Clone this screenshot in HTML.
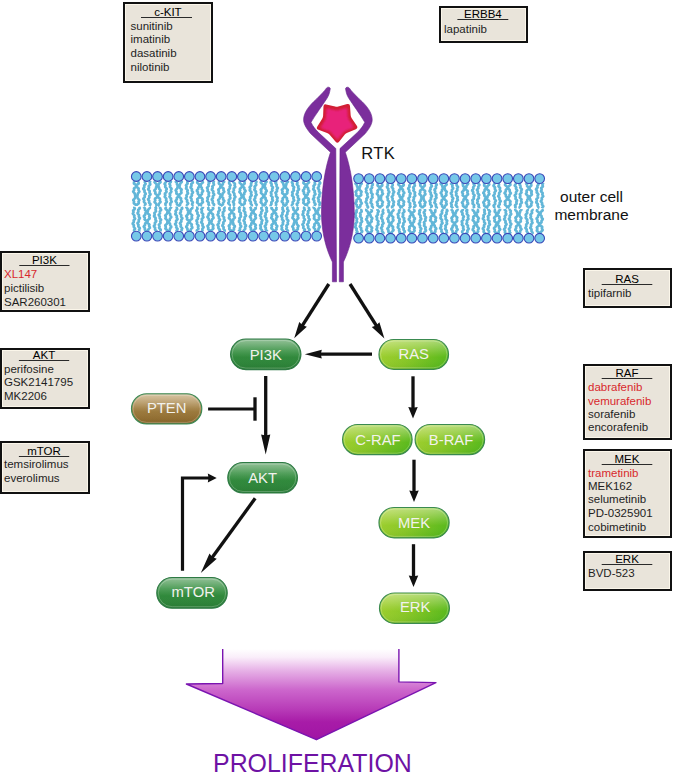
<!DOCTYPE html>
<html><head><meta charset="utf-8"><style>
html,body{margin:0;padding:0;background:#fff;width:673px;height:778px;overflow:hidden}
svg{display:block}
text{font-family:"Liberation Sans",sans-serif}
.bt{font-size:11.5px}
</style></head><body>
<svg width="673" height="778" viewBox="0 0 673 778">
<defs><filter id="sb" x="-20%" y="-20%" width="140%" height="140%"><feGaussianBlur stdDeviation="1.3"/></filter><linearGradient id="gd" x1="0" y1="0" x2="0" y2="1"><stop offset="0" stop-color="#4f9a56"/><stop offset="0.35" stop-color="#358f40"/><stop offset="1" stop-color="#2a8036"/></linearGradient>
<linearGradient id="gl" x1="0" y1="0.3" x2="1" y2="0.7"><stop offset="0" stop-color="#a2d030"/><stop offset="0.5" stop-color="#86c626"/><stop offset="1" stop-color="#56b81c"/></linearGradient><linearGradient id="hl" x1="0" y1="0" x2="0" y2="1"><stop offset="0" stop-color="#ffffff" stop-opacity="0.38"/><stop offset="0.45" stop-color="#ffffff" stop-opacity="0.08"/><stop offset="0.6" stop-color="#ffffff" stop-opacity="0"/><stop offset="1" stop-color="#000000" stop-opacity="0.04"/></linearGradient>
<linearGradient id="gb" x1="0" y1="0" x2="0" y2="1"><stop offset="0" stop-color="#bfa06a"/><stop offset="0.5" stop-color="#a07e42"/><stop offset="1" stop-color="#8a6628"/></linearGradient><linearGradient id="pg" x1="0" y1="649" x2="0" y2="740" gradientUnits="userSpaceOnUse"><stop offset="0" stop-color="#ffffff"/><stop offset="0.09" stop-color="#faeefa"/><stop offset="0.24" stop-color="#e6b0e6"/><stop offset="0.45" stop-color="#cc66cc"/><stop offset="0.66" stop-color="#b83cb8"/><stop offset="0.8" stop-color="#a81ca8"/><stop offset="1" stop-color="#a014a4"/></linearGradient></defs>
<rect x="124" y="3" width="88" height="79" fill="#e9e4da" stroke="#111" stroke-width="2"/>
<rect x="125.5" y="4.5" width="85" height="76" fill="none" stroke="#fbf6ea" stroke-width="1"/>
<line x1="141" y1="17.5" x2="192" y2="17.5" stroke="#2a2a2a" stroke-width="1"/>
<text x="167.9" y="15.9" text-anchor="middle" class="bt">c-KIT</text>
<text x="130.5" y="30" class="bt" fill="#1e1e1e">sunitinib</text>
<text x="130.5" y="43.4" class="bt" fill="#1e1e1e">imatinib</text>
<text x="130.5" y="57" class="bt" fill="#1e1e1e">dasatinib</text>
<text x="130.5" y="70.8" class="bt" fill="#1e1e1e">nilotinib</text>
<rect x="440" y="7" width="87" height="35" fill="#e9e4da" stroke="#111" stroke-width="2"/>
<rect x="441.5" y="8.5" width="84" height="32" fill="none" stroke="#fbf6ea" stroke-width="1"/>
<line x1="457.4" y1="19.5" x2="508.3" y2="19.5" stroke="#2a2a2a" stroke-width="1"/>
<text x="482.85" y="18.2" text-anchor="middle" class="bt">ERBB4</text>
<text x="444" y="33" class="bt" fill="#1e1e1e">lapatinib</text>
<rect x="1" y="252" width="88" height="59" fill="#e9e4da" stroke="#111" stroke-width="2"/>
<rect x="2.5" y="253.5" width="85" height="56" fill="none" stroke="#fbf6ea" stroke-width="1"/>
<line x1="19.3" y1="265.5" x2="69.5" y2="265.5" stroke="#2a2a2a" stroke-width="1"/>
<text x="44.4" y="264.4" text-anchor="middle" class="bt">PI3K</text>
<text x="4" y="278.4" class="bt" fill="#d8282c">XL147</text>
<text x="4" y="292.3" class="bt" fill="#1e1e1e">pictilisib</text>
<text x="4" y="305.7" class="bt" fill="#1e1e1e">SAR260301</text>
<rect x="1" y="349" width="88" height="59" fill="#e9e4da" stroke="#111" stroke-width="2"/>
<rect x="2.5" y="350.5" width="85" height="56" fill="none" stroke="#fbf6ea" stroke-width="1"/>
<line x1="18.9" y1="360.5" x2="69.2" y2="360.5" stroke="#2a2a2a" stroke-width="1"/>
<text x="44.05" y="359.0" text-anchor="middle" class="bt">AKT</text>
<text x="4" y="372.9" class="bt" fill="#1e1e1e">perifosine</text>
<text x="4" y="386.2" class="bt" fill="#1e1e1e">GSK2141795</text>
<text x="4" y="399.6" class="bt" fill="#1e1e1e">MK2206</text>
<rect x="1" y="442" width="88" height="51" fill="#e9e4da" stroke="#111" stroke-width="2"/>
<rect x="2.5" y="443.5" width="85" height="48" fill="none" stroke="#fbf6ea" stroke-width="1"/>
<line x1="18.9" y1="456.5" x2="69.2" y2="456.5" stroke="#2a2a2a" stroke-width="1"/>
<text x="44.05" y="454.9" text-anchor="middle" class="bt">mTOR</text>
<text x="4" y="468.4" class="bt" fill="#1e1e1e">temsirolimus</text>
<text x="4" y="481.8" class="bt" fill="#1e1e1e">everolimus</text>
<rect x="584" y="269" width="87" height="38" fill="#e9e4da" stroke="#111" stroke-width="2"/>
<rect x="585.5" y="270.5" width="84" height="35" fill="none" stroke="#fbf6ea" stroke-width="1"/>
<line x1="601.7" y1="284.5" x2="652.3" y2="284.5" stroke="#2a2a2a" stroke-width="1"/>
<text x="627.0" y="283.29999999999995" text-anchor="middle" class="bt">RAS</text>
<text x="588" y="297.1" class="bt" fill="#1e1e1e">tipifarnib</text>
<rect x="584" y="365" width="87" height="74" fill="#e9e4da" stroke="#111" stroke-width="2"/>
<rect x="585.5" y="366.5" width="84" height="71" fill="none" stroke="#fbf6ea" stroke-width="1"/>
<line x1="601.7" y1="378.5" x2="652.3" y2="378.5" stroke="#2a2a2a" stroke-width="1"/>
<text x="627.0" y="377.29999999999995" text-anchor="middle" class="bt">RAF</text>
<text x="588" y="390.6" class="bt" fill="#d8282c">dabrafenib</text>
<text x="588" y="404.5" class="bt" fill="#d8282c">vemurafenib</text>
<text x="588" y="417.9" class="bt" fill="#1e1e1e">sorafenib</text>
<text x="588" y="431.3" class="bt" fill="#1e1e1e">encorafenib</text>
<rect x="584" y="450" width="87" height="87" fill="#e9e4da" stroke="#111" stroke-width="2"/>
<rect x="585.5" y="451.5" width="84" height="84" fill="none" stroke="#fbf6ea" stroke-width="1"/>
<line x1="601.7" y1="464.5" x2="652.3" y2="464.5" stroke="#2a2a2a" stroke-width="1"/>
<text x="627.0" y="463.2" text-anchor="middle" class="bt">MEK</text>
<text x="588" y="476.6" class="bt" fill="#d8282c">trametinib</text>
<text x="588" y="490" class="bt" fill="#1e1e1e">MEK162</text>
<text x="588" y="503.3" class="bt" fill="#1e1e1e">selumetinib</text>
<text x="588" y="517.1" class="bt" fill="#1e1e1e">PD-0325901</text>
<text x="588" y="530.5" class="bt" fill="#1e1e1e">cobimetinib</text>
<rect x="584" y="552" width="87" height="38" fill="#e9e4da" stroke="#111" stroke-width="2"/>
<rect x="585.5" y="553.5" width="84" height="35" fill="none" stroke="#fbf6ea" stroke-width="1"/>
<line x1="601.7" y1="564.5" x2="652.3" y2="564.5" stroke="#2a2a2a" stroke-width="1"/>
<text x="627.0" y="563.3" text-anchor="middle" class="bt">ERK</text>
<text x="588" y="576.7" class="bt" fill="#1e1e1e">BVD-523</text>
<polyline points="133.60,181.00 134.07,181.62 134.12,182.25 133.87,182.88 133.94,183.50 134.65,184.12 135.61,184.75 136.17,185.38 136.26,186.00 136.40,186.62 137.05,187.25 138.02,187.88 138.65,188.50 138.65,189.12 138.43,189.75 138.57,190.38 139.08,191.00 139.39,191.62 139.04,192.25 138.29,192.88 137.77,193.50 137.73,194.12 137.72,194.75 137.18,195.38 136.18,196.00 135.33,196.62 135.06,197.25 135.09,197.88 134.82,198.50 134.08,199.12 133.40,199.75 133.32,200.38 133.77,201.00 134.10,201.62 133.97,202.25 133.73,202.88 133.98,203.50 134.82,204.12 135.69,204.75 136.07,205.38 136.10,206.00" fill="none" stroke="#62b6d8" stroke-width="2.6"/>
<polyline points="139.00,181.00 138.53,181.62 138.48,182.25 138.73,182.88 138.66,183.50 137.95,184.12 136.99,184.75 136.43,185.38 136.34,186.00 136.20,186.62 135.55,187.25 134.58,187.88 133.95,188.50 133.95,189.12 134.17,189.75 134.03,190.38 133.52,191.00 133.21,191.62 133.56,192.25 134.31,192.88 134.83,193.50 134.87,194.12 134.88,194.75 135.42,195.38 136.42,196.00 137.27,196.62 137.54,197.25 137.51,197.88 137.78,198.50 138.52,199.12 139.20,199.75 139.28,200.38 138.84,201.00 138.50,201.62 138.62,202.25 138.87,202.88 138.62,203.50 137.78,204.12 136.91,204.75 136.53,205.38 136.50,206.00" fill="none" stroke="#62b6d8" stroke-width="2.6"/>
<polyline points="145.16,181.00 144.89,181.62 144.80,182.25 145.18,182.88 145.62,183.50 145.53,184.12 144.87,184.75 144.22,185.38 144.11,186.00 144.35,186.62 144.33,187.25 143.84,187.88 143.34,188.50 143.40,189.12 144.02,189.75 144.59,190.38 144.65,191.00 144.43,191.62 144.53,192.25 145.11,192.88 145.68,193.50 145.65,194.12 145.09,194.75 144.61,195.38 144.63,196.00 144.85,196.62 144.68,197.25 144.02,197.88 143.41,198.50 143.41,199.12 143.90,199.75 144.27,200.38 144.16,201.00 143.91,201.62 144.13,202.25 144.85,202.88 145.48,203.50 145.51,204.12 145.09,204.75 144.84,205.38 145.06,206.00" fill="none" stroke="#62b6d8" stroke-width="2.6"/>
<polyline points="150.10,181.00 150.15,181.62 149.80,182.25 149.67,182.88 149.99,183.50 150.32,184.12 150.09,184.75 149.35,185.38 148.73,186.00 148.69,186.62 148.97,187.25 148.98,187.88 148.55,188.50 148.17,189.12 148.38,189.75 149.10,190.38 149.67,191.00 149.68,191.62 149.45,192.25 149.55,192.88 150.09,193.50 150.53,194.12 150.34,194.75 149.67,195.38 149.17,196.00 149.20,196.62 149.41,197.25 149.21,197.88 148.58,198.50 148.09,199.12 148.25,199.75 148.85,200.38 149.25,201.00 149.15,201.62 148.96,202.25 149.23,202.88 149.94,203.50 150.46,204.12 150.34,204.75 149.82,205.38 149.54,206.00" fill="none" stroke="#62b6d8" stroke-width="2.6"/>
<polyline points="155.17,181.00 154.75,181.62 154.58,182.25 155.07,182.88 155.90,183.50 156.45,184.12 156.51,184.75 156.58,185.38 157.19,186.00 158.21,186.62 159.00,187.25 159.19,187.88 159.10,188.50 159.36,189.12 160.03,189.75 160.59,190.38 160.52,191.00 159.96,191.62 159.57,192.25 159.64,192.88 159.78,193.50 159.41,194.12 158.49,194.75 157.61,195.38 157.26,196.00 157.24,196.62 156.93,197.25 156.11,197.88 155.23,198.50 154.91,199.12 155.13,199.75 155.32,200.38 155.05,201.00 154.59,201.62 154.59,202.25 155.23,202.88 156.01,203.50 156.36,204.12 156.34,204.75 156.54,205.38 157.33,206.00" fill="none" stroke="#62b6d8" stroke-width="2.6"/>
<polyline points="159.92,181.00 160.37,181.62 160.46,182.25 159.89,182.88 159.08,183.50 158.63,184.12 158.62,184.75 158.48,185.38 157.78,186.00 156.75,186.62 156.04,187.25 155.93,187.88 155.99,188.50 155.64,189.12 154.92,189.75 154.43,190.38 154.59,191.00 155.15,191.62 155.46,192.25 155.32,192.88 155.21,193.50 155.68,194.12 156.63,194.75 157.44,195.38 157.71,196.00 157.74,196.62 158.14,197.25 159.02,197.88 159.85,198.50 160.08,199.12 159.83,199.75 159.72,200.38 160.07,201.00 160.51,201.62 160.41,202.25 159.72,202.88 159.00,203.50 158.74,204.12 158.78,204.75 158.49,205.38 157.63,206.00" fill="none" stroke="#62b6d8" stroke-width="2.6"/>
<polyline points="165.83,181.00 166.06,181.62 165.93,182.25 165.28,182.88 164.65,183.50 164.61,184.12 165.09,184.75 165.48,185.38 165.39,186.00 165.14,186.62 165.32,187.25 166.02,187.88 166.68,188.50 166.74,189.12 166.33,189.75 166.06,190.38 166.26,191.00 166.55,191.62 166.35,192.25 165.62,192.88 164.96,193.50 164.88,194.12 165.23,194.75 165.38,195.38 165.07,196.00 164.73,196.62 164.93,197.25 165.66,197.88 166.29,198.50 166.36,199.12 166.08,199.75 166.05,200.38 166.47,201.00 166.87,201.62 166.68,202.25 165.98,202.88 165.39,203.50 165.35,204.12 165.59,204.75 165.51,205.38 164.98,206.00" fill="none" stroke="#62b6d8" stroke-width="2.6"/>
<polyline points="170.69,181.00 170.90,181.62 170.71,182.25 170.02,182.88 169.43,183.50 169.45,184.12 169.94,184.75 170.28,185.38 170.14,186.00 169.90,186.62 170.15,187.25 170.88,187.88 171.50,188.50 171.50,189.12 171.08,189.75 170.87,190.38 171.11,191.00 171.38,191.62 171.11,192.25 170.36,192.88 169.75,193.50 169.73,194.12 170.08,194.75 170.16,195.38 169.81,196.00 169.49,196.62 169.76,197.25 170.51,197.88 171.10,198.50 171.11,199.12 170.83,199.75 170.86,200.38 171.33,201.00 171.69,201.62 171.44,202.25 170.72,202.88 170.19,203.50 170.20,204.12 170.43,204.75 170.29,205.38 169.72,206.00" fill="none" stroke="#62b6d8" stroke-width="2.6"/>
<polyline points="175.64,181.00 175.75,181.62 176.39,182.25 176.94,182.88 177.02,183.50 176.93,184.12 177.29,184.75 178.22,185.38 179.16,186.00 179.58,186.62 179.58,187.25 179.79,187.88 180.50,188.50 181.33,189.12 181.63,189.75 181.34,190.38 181.01,191.00 181.11,191.62 181.46,192.25 181.43,192.88 180.75,193.50 179.87,194.12 179.40,194.75 179.35,195.38 179.18,196.00 178.45,196.62 177.44,197.25 176.80,197.88 176.77,198.50 176.89,199.12 176.60,199.75 175.96,200.38 175.59,201.00 175.89,201.62 176.54,202.25 176.92,202.88 176.85,203.50 176.83,204.12 177.38,204.75 178.38,205.38 179.19,206.00" fill="none" stroke="#62b6d8" stroke-width="2.6"/>
<polyline points="181.36,181.00 181.77,181.62 181.60,182.25 180.87,182.88 180.20,183.50 180.02,184.12 180.06,184.75 179.70,185.38 178.78,186.00 177.81,186.62 177.37,187.25 177.39,187.88 177.28,188.50 176.68,189.12 175.93,189.75 175.68,190.38 176.05,191.00 176.51,191.62 176.55,192.25 176.30,192.88 176.38,193.50 177.10,194.12 178.05,194.75 178.61,195.38 178.69,196.00 178.83,196.62 179.50,197.25 180.47,197.88 181.09,198.50 181.08,199.12 180.86,199.75 181.01,200.38 181.53,201.00 181.83,201.62 181.47,202.25 180.72,202.88 180.21,203.50 180.18,204.12 180.17,204.75 179.62,205.38 178.61,206.00" fill="none" stroke="#62b6d8" stroke-width="2.6"/>
<polyline points="187.81,181.00 187.35,181.62 187.28,182.25 187.57,182.88 187.64,183.50 187.12,184.12 186.35,184.75 185.97,185.38 186.21,186.00 186.56,186.62 186.51,187.25 186.13,187.88 186.05,188.50 186.59,189.12 187.37,189.75 187.73,190.38 187.52,191.00 187.27,191.62 187.45,192.25 187.91,192.88 188.02,193.50 187.48,194.12 186.73,194.75 186.41,195.38 186.59,196.00 186.76,196.62 186.45,197.25 185.91,197.88 185.77,198.50 186.28,199.12 186.97,199.75 187.24,200.38 187.05,201.00 186.97,201.62 187.38,202.25 188.00,202.88 188.18,203.50 187.71,204.12 187.09,204.75 186.91,205.38 187.11,206.00" fill="none" stroke="#62b6d8" stroke-width="2.6"/>
<polyline points="192.11,181.00 192.49,181.62 192.83,182.25 192.59,182.88 191.85,183.50 191.26,184.12 191.25,184.75 191.51,185.38 191.45,186.00 190.95,186.62 190.56,187.25 190.79,187.88 191.49,188.50 192.01,189.12 191.99,189.75 191.77,190.38 191.94,191.00 192.54,191.62 192.98,192.25 192.78,192.88 192.14,193.50 191.71,194.12 191.78,194.75 191.97,195.38 191.71,196.00 191.04,196.62 190.55,197.25 190.71,197.88 191.28,198.50 191.61,199.12 191.46,199.75 191.28,200.38 191.60,201.00 192.34,201.62 192.86,202.25 192.73,202.88 192.25,203.50 192.04,204.12 192.27,204.75 192.46,205.38 192.10,206.00" fill="none" stroke="#62b6d8" stroke-width="2.6"/>
<polyline points="197.71,181.00 197.49,181.62 197.15,182.25 197.30,182.88 198.06,183.50 198.88,184.12 199.23,184.75 199.24,185.38 199.51,186.00 200.35,186.62 201.34,187.25 201.86,187.88 201.82,188.50 201.77,189.12 202.18,189.75 202.84,190.38 203.10,191.00 202.71,191.62 202.08,192.25 201.83,192.88 201.96,193.50 201.90,194.12 201.23,194.75 200.22,195.38 199.52,196.00 199.38,196.62 199.32,197.25 198.81,197.88 197.92,198.50 197.27,199.12 197.27,199.75 197.61,200.38 197.68,201.00 197.33,201.62 197.05,202.25 197.39,202.88 198.22,203.50 198.91,204.12 199.09,204.75 199.10,205.38 199.55,206.00" fill="none" stroke="#62b6d8" stroke-width="2.6"/>
<polyline points="202.26,181.00 202.65,181.62 202.89,182.25 202.49,182.88 201.65,183.50 201.01,184.12 200.88,184.75 200.85,185.38 200.34,186.00 199.35,186.62 198.49,187.25 198.21,187.88 198.31,188.50 198.15,189.12 197.53,189.75 196.92,190.38 196.90,191.00 197.43,191.62 197.91,192.25 197.93,192.88 197.76,193.50 198.03,194.12 198.90,194.75 199.84,195.38 200.29,196.00 200.32,196.62 200.54,197.25 201.29,197.88 202.19,198.50 202.62,199.12 202.44,199.75 202.18,200.38 202.36,201.00 202.81,201.62 202.90,202.25 202.34,202.88 201.52,203.50 201.07,204.12 201.05,204.75 200.92,205.38 200.22,206.00" fill="none" stroke="#62b6d8" stroke-width="2.6"/>
<polyline points="207.97,181.00 208.38,181.62 209.08,182.25 209.40,182.88 209.06,183.50 208.50,184.12 208.31,184.75 208.53,185.38 208.61,186.00 208.12,186.62 207.38,187.25 207.03,187.88 207.32,188.50 207.78,189.12 207.85,189.75 207.56,190.38 207.50,191.00 208.03,191.62 208.81,192.25 209.16,192.88 208.92,193.50 208.56,194.12 208.61,194.75 208.98,195.38 209.05,196.00 208.50,196.62 207.72,197.25 207.37,197.88 207.59,198.50 207.85,199.12 207.66,199.75 207.21,200.38 207.12,201.00 207.67,201.62 208.42,202.25 208.73,202.88 208.54,203.50 208.38,204.12 208.68,204.75 209.22,205.38 209.34,206.00" fill="none" stroke="#62b6d8" stroke-width="2.6"/>
<polyline points="213.54,181.00 213.85,181.62 213.60,182.25 213.32,182.88 213.49,183.50 213.90,184.12 213.93,184.75 213.35,185.38 212.60,186.00 212.31,186.62 212.53,187.25 212.71,187.88 212.42,188.50 211.92,189.12 211.86,189.75 212.44,190.38 213.14,191.00 213.38,191.62 213.18,192.25 213.09,192.88 213.50,193.50 214.07,194.12 214.16,194.75 213.62,195.38 212.99,196.00 212.81,196.62 213.02,197.25 213.03,197.88 212.52,198.50 211.89,199.12 211.76,199.75 212.25,200.38 212.80,201.00 212.88,201.62 212.65,202.25 212.70,202.88 213.28,203.50 213.97,204.12 214.13,204.75 213.70,205.38 213.26,206.00" fill="none" stroke="#62b6d8" stroke-width="2.6"/>
<polyline points="218.39,181.00 218.91,181.62 219.06,182.25 218.84,182.88 218.83,183.50 219.45,184.12 220.42,184.75 221.09,185.38 221.23,186.00 221.31,186.62 221.87,187.25 222.82,187.88 223.54,188.50 223.62,189.12 223.37,189.75 223.41,190.38 223.87,191.00 224.24,191.62 223.99,192.25 223.25,192.88 222.64,193.50 222.52,194.12 222.55,194.75 222.11,195.38 221.15,196.00 220.22,196.62 219.86,197.25 219.90,197.88 219.72,198.50 219.05,199.12 218.32,199.75 218.15,200.38 218.56,201.00 218.97,201.62 218.94,202.25 218.68,202.88 218.83,203.50 219.61,204.12 220.53,204.75 221.01,205.38 221.06,206.00" fill="none" stroke="#62b6d8" stroke-width="2.6"/>
<polyline points="224.26,181.00 224.20,181.62 223.57,182.25 222.98,182.88 222.86,183.50 222.95,184.12 222.65,184.75 221.76,185.38 220.78,186.00 220.31,186.62 220.29,187.25 220.13,187.88 219.46,188.50 218.63,189.12 218.27,189.75 218.53,190.38 218.90,191.00 218.85,191.62 218.50,192.25 218.49,192.88 219.12,193.50 220.02,194.12 220.55,194.75 220.62,195.38 220.75,196.00 221.42,196.62 222.43,197.25 223.13,197.88 223.20,198.50 223.06,199.12 223.29,199.75 223.91,200.38 224.32,201.00 224.08,201.62 223.42,202.25 222.99,202.88 223.02,203.50 223.07,204.12 222.57,204.75 221.59,205.38 220.73,206.00" fill="none" stroke="#62b6d8" stroke-width="2.6"/>
<polyline points="228.74,181.00 229.26,181.62 229.29,182.25 229.06,182.88 229.17,183.50 229.79,184.12 230.44,184.75 230.52,185.38 230.06,186.00 229.65,186.62 229.71,187.25 229.97,187.88 229.83,188.50 229.15,189.12 228.47,189.75 228.37,190.38 228.76,191.00 229.06,191.62 228.88,192.25 228.58,192.88 228.74,193.50 229.45,194.12 230.14,194.75 230.24,195.38 229.91,196.00 229.74,196.62 230.03,197.25 230.39,197.88 230.22,198.50 229.51,199.12 228.85,199.75 228.75,200.38 229.03,201.00 229.09,201.62 228.68,202.25 228.26,202.88 228.41,203.50 229.10,204.12 229.71,204.75 229.78,205.38 229.54,206.00" fill="none" stroke="#62b6d8" stroke-width="2.6"/>
<polyline points="233.65,181.00 233.31,181.62 233.43,182.25 234.11,182.88 234.82,183.50 234.97,184.12 234.67,184.75 234.52,185.38 234.83,186.00 235.23,186.62 235.13,187.25 234.44,187.88 233.77,188.50 233.64,189.12 233.90,189.75 233.94,190.38 233.51,191.00 233.04,191.62 233.13,192.25 233.78,192.88 234.39,193.50 234.48,194.12 234.25,194.75 234.31,195.38 234.84,196.00 235.37,196.62 235.32,197.25 234.72,197.88 234.19,198.50 234.16,199.12 234.38,199.75 234.24,200.38 233.62,201.00 233.04,201.62 233.06,202.25 233.60,202.88 234.03,203.50 233.97,204.12 233.74,204.75 233.94,205.38 234.63,206.00" fill="none" stroke="#62b6d8" stroke-width="2.6"/>
<polyline points="240.14,181.00 239.99,181.62 239.64,182.25 239.72,182.88 240.43,183.50 241.29,184.12 241.72,184.75 241.74,185.38 241.95,186.00 242.72,186.62 243.73,187.25 244.32,187.88 244.33,188.50 244.23,189.12 244.57,189.75 245.22,190.38 245.55,191.00 245.21,191.62 244.57,192.25 244.24,192.88 244.33,193.50 244.33,194.12 243.73,194.75 242.72,195.38 241.95,196.00 241.75,196.62 241.72,197.25 241.29,197.88 240.42,198.50 239.72,199.12 239.65,199.75 240.00,200.38 240.14,201.00 239.83,201.62 239.53,202.25 239.79,202.88 240.60,203.50 241.35,204.12 241.59,204.75 241.59,205.38 241.97,206.00" fill="none" stroke="#62b6d8" stroke-width="2.6"/>
<polyline points="245.37,181.00 244.82,181.62 244.45,182.25 244.54,182.88 244.68,183.50 244.28,184.12 243.34,184.75 242.48,185.38 242.16,186.00 242.14,186.62 241.80,187.25 240.96,187.88 240.10,188.50 239.80,189.12 240.04,189.75 240.20,190.38 239.90,191.00 239.45,191.62 239.48,192.25 240.14,192.88 240.90,193.50 241.22,194.12 241.19,194.75 241.42,195.38 242.24,196.00 243.26,196.62 243.84,197.25 243.87,197.88 243.88,198.50 244.35,199.12 245.11,199.75 245.50,200.38 245.22,201.00 244.69,201.62 244.51,202.25 244.71,202.88 244.75,203.50 244.16,204.12 243.19,204.75 242.49,205.38 242.32,206.00" fill="none" stroke="#62b6d8" stroke-width="2.6"/>
<polyline points="250.67,181.00 251.41,181.62 251.76,182.25 251.47,182.88 251.00,183.50 250.91,184.12 251.19,184.75 251.25,185.38 250.73,186.00 249.96,186.62 249.60,187.25 249.85,187.88 250.22,188.50 250.18,189.12 249.82,189.75 249.75,190.38 250.30,191.00 251.08,191.62 251.43,192.25 251.22,192.88 250.95,193.50 251.11,194.12 251.55,194.75 251.64,195.38 251.10,196.00 250.34,196.62 250.02,197.25 250.21,197.88 250.39,198.50 250.10,199.12 249.57,199.75 249.45,200.38 249.98,201.00 250.68,201.62 250.95,202.25 250.76,202.88 250.67,203.50 251.07,204.12 251.67,204.75 251.83,205.38 251.34,206.00" fill="none" stroke="#62b6d8" stroke-width="2.6"/>
<polyline points="255.87,181.00 256.41,181.62 256.31,182.25 255.89,182.88 255.77,183.50 256.07,184.12 256.28,184.75 255.91,185.38 255.13,186.00 254.60,186.62 254.68,187.25 255.01,187.88 255.01,188.50 254.60,189.12 254.36,189.75 254.73,190.38 255.50,191.00 256.00,191.62 255.92,192.25 255.67,192.88 255.79,193.50 256.30,194.12 256.59,194.75 256.23,195.38 255.50,196.00 255.06,196.62 255.15,197.25 255.34,197.88 255.10,198.50 254.50,199.12 254.17,199.75 254.49,200.38 255.16,201.00 255.53,201.62 255.40,202.25 255.25,202.88 255.59,203.50 256.27,204.12 256.65,204.75 256.36,205.38 255.77,206.00" fill="none" stroke="#62b6d8" stroke-width="2.6"/>
<polyline points="261.36,181.00 261.07,181.62 260.75,182.25 261.00,182.88 261.80,183.50 262.56,184.12 262.82,184.75 262.83,185.38 263.18,186.00 264.09,186.62 265.05,187.25 265.47,187.88 265.39,188.50 265.42,189.12 265.92,189.75 266.57,190.38 266.74,191.00 266.28,191.62 265.70,192.25 265.55,192.88 265.70,193.50 265.57,194.12 264.81,194.75 263.82,195.38 263.21,196.00 263.12,196.62 263.01,197.25 262.41,197.88 261.50,198.50 260.93,199.12 261.01,199.75 261.33,200.38 261.31,201.00 260.90,201.62 260.69,202.25 261.12,202.88 261.96,203.50 262.56,204.12 262.66,204.75 262.71,205.38 263.26,206.00" fill="none" stroke="#62b6d8" stroke-width="2.6"/>
<polyline points="266.70,181.00 266.63,181.62 266.00,182.25 265.42,182.88 265.31,183.50 265.41,184.12 265.08,184.75 264.18,185.38 263.22,186.00 262.76,186.62 262.74,187.25 262.57,187.88 261.89,188.50 261.06,189.12 260.71,189.75 260.98,190.38 261.34,191.00 261.28,191.62 260.93,192.25 260.93,192.88 261.57,193.50 262.47,194.12 262.98,194.75 263.04,195.38 263.19,196.00 263.88,196.62 264.89,197.25 265.56,197.88 265.63,198.50 265.49,199.12 265.74,199.75 266.36,200.38 266.76,201.00 266.50,201.62 265.85,202.25 265.43,202.88 265.47,203.50 265.51,204.12 265.00,204.75 264.01,205.38 263.17,206.00" fill="none" stroke="#62b6d8" stroke-width="2.6"/>
<polyline points="271.85,181.00 271.23,181.62 270.66,182.25 270.70,182.88 271.25,183.50 271.69,184.12 271.64,184.75 271.42,185.38 271.62,186.00 272.30,186.62 272.91,187.25 272.90,187.88 272.42,188.50 272.10,189.12 272.24,189.75 272.49,190.38 272.25,191.00 271.52,191.62 270.89,192.25 270.88,192.88 271.28,193.50 271.49,194.12 271.23,194.75 270.95,195.38 271.21,196.00 271.96,196.62 272.58,197.25 272.60,197.88 272.27,198.50 272.19,199.12 272.56,199.75 272.88,200.38 272.63,201.00 271.88,201.62 271.30,202.25 271.28,202.88 271.55,203.50 271.51,204.12 271.04,204.75 270.65,205.38 270.89,206.00" fill="none" stroke="#62b6d8" stroke-width="2.6"/>
<polyline points="276.58,181.00 276.39,181.62 275.80,182.25 275.39,182.88 275.64,183.50 276.30,184.12 276.71,184.75 276.62,185.38 276.44,186.00 276.73,186.62 277.40,187.25 277.85,187.88 277.64,188.50 277.06,189.12 276.75,189.75 276.90,190.38 277.06,191.00 276.71,191.62 275.97,192.25 275.49,192.88 275.67,193.50 276.16,194.12 276.36,194.75 276.12,195.38 275.96,196.00 276.36,196.62 277.13,197.25 277.62,197.88 277.48,198.50 277.08,199.12 277.01,199.75 277.34,200.38 277.52,201.00 277.10,201.62 276.31,202.25 275.83,202.88 275.95,203.50 276.26,204.12 276.20,204.75 275.77,205.38 275.56,206.00" fill="none" stroke="#62b6d8" stroke-width="2.6"/>
<polyline points="282.01,181.00 281.74,181.62 282.14,182.25 282.89,182.88 283.35,183.50 283.36,184.12 283.40,184.75 283.99,185.38 285.01,186.00 285.82,186.62 286.04,187.25 286.01,187.88 286.34,188.50 287.11,189.12 287.76,189.75 287.78,190.38 287.33,191.00 287.04,191.62 287.21,192.25 287.44,192.88 287.14,193.50 286.27,194.12 285.43,194.75 285.11,195.38 285.09,196.00 284.75,196.62 283.89,197.25 282.96,197.88 282.57,198.50 282.71,199.12 282.79,199.75 282.41,200.38 281.86,201.00 281.76,201.62 282.31,202.25 283.00,202.88 283.27,203.50 283.19,204.12 283.36,204.75 284.13,205.38 285.15,206.00" fill="none" stroke="#62b6d8" stroke-width="2.6"/>
<polyline points="287.79,181.00 287.93,181.62 287.42,182.25 286.70,182.88 286.39,183.50 286.45,184.12 286.32,184.75 285.59,185.38 284.56,186.00 283.88,186.62 283.77,187.25 283.74,187.88 283.27,188.50 282.44,189.12 281.90,189.75 282.01,190.38 282.45,191.00 282.61,191.62 282.34,192.25 282.18,192.88 282.62,193.50 283.53,194.12 284.26,194.75 284.46,195.38 284.50,196.00 284.97,196.62 285.92,197.25 286.77,197.88 287.02,198.50 286.86,199.12 286.89,199.75 287.39,200.38 287.91,201.00 287.86,201.62 287.25,202.25 286.64,202.88 286.51,203.50 286.60,204.12 286.31,204.75 285.43,205.38 284.45,206.00" fill="none" stroke="#62b6d8" stroke-width="2.6"/>
<polyline points="293.01,181.00 292.29,181.62 291.86,182.25 292.09,182.88 292.62,183.50 292.83,184.12 292.62,184.75 292.48,185.38 292.90,186.00 293.67,186.62 294.12,187.25 293.93,187.88 293.49,188.50 293.40,189.12 293.70,189.75 293.85,190.38 293.39,191.00 292.60,191.62 292.15,192.25 292.31,192.88 292.66,193.50 292.62,194.12 292.22,194.75 292.06,195.38 292.53,196.00 293.31,196.62 293.73,197.25 293.59,197.88 293.34,198.50 293.50,199.12 293.99,199.75 294.19,200.38 293.73,201.00 292.99,201.62 292.60,202.25 292.75,202.88 292.92,203.50 292.64,204.12 292.06,204.75 291.83,205.38 292.25,206.00" fill="none" stroke="#62b6d8" stroke-width="2.6"/>
<polyline points="297.05,181.00 297.03,181.62 297.38,182.25 297.49,182.88 297.15,183.50 296.83,184.12 297.10,184.75 297.85,185.38 298.44,186.00 298.46,186.62 298.17,187.25 298.19,187.88 298.64,188.50 299.00,189.12 298.75,189.75 298.03,190.38 297.48,191.00 297.49,191.62 297.73,192.25 297.60,192.88 297.04,193.50 296.63,194.12 296.85,194.75 297.52,195.38 297.99,196.00 297.94,196.62 297.74,197.25 297.97,197.88 298.61,198.50 299.08,199.12 298.89,199.75 298.29,200.38 297.91,201.00 298.03,201.62 298.20,202.25 297.90,202.88 297.19,203.50 296.69,204.12 296.84,204.75 297.36,205.38 297.62,206.00" fill="none" stroke="#62b6d8" stroke-width="2.6"/>
<polyline points="303.70,181.00 303.81,181.62 303.52,182.25 303.38,182.88 303.87,183.50 304.78,184.12 305.47,184.75 305.64,185.38 305.69,186.00 306.21,186.62 307.18,187.25 308.00,187.88 308.21,188.50 308.04,189.12 308.12,189.75 308.64,190.38 309.15,191.00 309.06,191.62 308.43,192.25 307.86,192.88 307.76,193.50 307.85,194.12 307.52,194.75 306.61,195.38 305.65,196.00 305.21,196.62 305.19,197.25 305.01,197.88 304.32,198.50 303.49,199.12 303.16,199.75 303.43,200.38 303.79,201.00 303.71,201.62 303.36,202.25 303.37,202.88 304.02,203.50 304.91,204.12 305.42,204.75 305.47,205.38 305.62,206.00" fill="none" stroke="#62b6d8" stroke-width="2.6"/>
<polyline points="308.36,181.00 308.76,181.62 308.99,182.25 308.58,182.88 307.74,183.50 307.12,184.12 306.99,184.75 306.96,185.38 306.43,186.00 305.44,186.62 304.58,187.25 304.32,187.88 304.42,188.50 304.25,189.12 303.62,189.75 303.02,190.38 303.01,191.00 303.55,191.62 304.01,192.25 304.02,192.88 303.85,193.50 304.14,194.12 305.01,194.75 305.95,195.38 306.38,196.00 306.41,196.62 306.64,197.25 307.40,197.88 308.30,198.50 308.71,199.12 308.53,199.75 308.28,200.38 308.47,201.00 308.92,201.62 309.00,202.25 308.43,202.88 307.61,203.50 307.17,204.12 307.16,204.75 307.03,205.38 306.32,206.00" fill="none" stroke="#62b6d8" stroke-width="2.6"/>
<polyline points="315.26,181.00 315.11,181.62 314.71,182.25 314.66,182.88 315.00,183.50 315.17,184.12 314.73,184.75 313.94,185.38 313.48,186.00 313.61,186.62 313.91,187.25 313.84,187.88 313.40,188.50 313.20,189.12 313.63,189.75 314.40,190.38 314.84,191.00 314.71,191.62 314.49,192.25 314.69,192.88 315.22,193.50 315.46,194.12 315.04,194.75 314.32,195.38 313.95,196.00 314.08,196.62 314.24,197.25 313.92,197.88 313.31,198.50 313.02,199.12 313.41,199.75 314.06,200.38 314.36,201.00 314.19,201.62 314.08,202.25 314.49,202.88 315.18,203.50 315.50,204.12 315.16,204.75 314.59,205.38 314.40,206.00" fill="none" stroke="#62b6d8" stroke-width="2.6"/>
<polyline points="319.33,181.00 319.35,181.62 319.82,182.25 320.25,182.88 320.07,183.50 319.39,184.12 318.82,184.75 318.80,185.38 319.03,186.00 318.91,186.62 318.34,187.25 317.85,187.88 318.00,188.50 318.63,189.12 319.11,189.75 319.07,190.38 318.87,191.00 319.07,191.62 319.73,192.25 320.26,192.88 320.15,193.50 319.59,194.12 319.21,194.75 319.33,195.38 319.53,196.00 319.26,196.62 318.54,197.25 317.98,197.88 318.05,198.50 318.53,199.12 318.79,199.75 318.59,200.38 318.37,201.00 318.68,201.62 319.44,202.25 320.01,202.88 319.96,203.50 319.56,204.12 319.43,204.75 319.74,205.38 319.99,206.00" fill="none" stroke="#62b6d8" stroke-width="2.6"/>
<polyline points="134.37,206.80 134.27,207.42 134.59,208.04 134.81,208.65 134.46,209.27 133.69,209.89 133.14,210.50 133.18,211.12 133.50,211.74 133.52,212.36 133.12,212.98 132.82,213.59 133.11,214.21 133.85,214.83 134.41,215.44 134.41,216.06 134.15,216.68 134.21,217.30 134.69,217.92 135.08,218.53 134.88,219.15 134.19,219.77 133.64,220.38 133.63,221.00 133.85,221.62 133.74,222.24 133.18,222.86 132.69,223.47 132.80,224.09 133.42,224.71 133.92,225.32 133.93,225.94 133.71,226.56 133.86,227.18 134.47,227.80 135.05,228.41 135.04,229.03 134.51,229.65 134.07,230.26 134.10,230.88 134.33,231.50" fill="none" stroke="#62b6d8" stroke-width="2.6"/>
<polyline points="139.06,206.80 139.43,207.42 139.77,208.04 139.55,208.65 138.83,209.27 138.22,209.89 138.16,210.50 138.42,211.12 138.42,211.74 137.97,212.36 137.54,212.98 137.67,213.59 138.34,214.21 138.93,214.83 139.00,215.44 138.77,216.06 138.83,216.68 139.35,217.30 139.88,217.92 139.84,218.53 139.25,219.15 138.70,219.77 138.65,220.38 138.87,221.00 138.78,221.62 138.20,222.24 137.59,222.86 137.53,223.47 138.03,224.09 138.51,224.71 138.52,225.32 138.28,225.94 138.37,226.56 138.99,227.18 139.67,227.80 139.82,228.41 139.42,229.03 139.01,229.65 139.06,230.26 139.35,230.88 139.28,231.50" fill="none" stroke="#62b6d8" stroke-width="2.6"/>
<polyline points="143.76,206.80 144.09,207.42 144.73,208.04 145.07,208.65 144.98,209.27 144.97,209.89 145.52,210.50 146.51,211.12 147.31,211.74 147.56,212.36 147.57,212.98 147.93,213.59 148.76,214.21 149.52,214.83 149.69,215.44 149.38,216.06 149.16,216.68 149.39,217.30 149.75,217.92 149.64,218.53 148.92,219.15 148.11,219.77 147.74,220.38 147.73,221.00 147.51,221.62 146.73,222.24 145.73,222.86 145.13,223.47 145.11,224.09 145.18,224.71 144.83,225.32 144.16,225.94 143.77,226.56 144.03,227.18 144.64,227.80 144.98,228.41 144.88,229.03 144.82,229.65 145.32,230.26 146.28,230.88 147.10,231.50" fill="none" stroke="#62b6d8" stroke-width="2.6"/>
<polyline points="149.38,206.80 149.83,207.42 149.85,208.04 149.23,208.65 148.45,209.27 148.07,209.89 148.08,210.50 147.92,211.12 147.20,211.74 146.18,212.36 145.50,212.98 145.39,213.59 145.43,214.21 145.08,214.83 144.36,215.44 143.84,216.06 143.97,216.68 144.50,217.30 144.81,217.92 144.69,218.53 144.54,219.15 144.93,219.77 145.84,220.38 146.68,221.00 147.01,221.62 147.03,222.24 147.35,222.86 148.17,223.47 149.06,224.09 149.43,224.71 149.25,225.32 149.07,225.94 149.34,226.56 149.83,227.18 149.92,227.80 149.37,228.41 148.61,229.03 148.22,229.65 148.23,230.26 148.11,230.88 147.43,231.50" fill="none" stroke="#62b6d8" stroke-width="2.6"/>
<polyline points="154.80,206.80 155.56,207.42 156.08,208.04 155.99,208.65 155.59,209.27 155.49,209.89 155.80,210.50 156.04,211.12 155.70,211.74 154.93,212.36 154.38,212.98 154.41,213.59 154.72,214.21 154.75,214.83 154.35,215.44 154.04,216.06 154.31,216.68 155.04,217.30 155.62,217.92 155.63,218.53 155.37,219.15 155.42,219.77 155.89,220.38 156.30,221.00 156.11,221.62 155.43,222.24 154.88,222.86 154.85,223.47 155.08,224.09 154.97,224.71 154.42,225.32 153.92,225.94 154.01,226.56 154.62,227.18 155.13,227.80 155.14,228.41 154.93,229.03 155.06,229.65 155.67,230.26 156.26,230.88 156.26,231.50" fill="none" stroke="#62b6d8" stroke-width="2.6"/>
<polyline points="160.33,206.80 160.20,207.42 160.02,208.04 160.28,208.65 160.87,209.27 161.16,209.89 160.80,210.50 160.12,211.12 159.75,211.74 159.88,212.36 160.03,212.98 159.72,213.59 159.06,214.21 158.68,214.83 158.94,215.44 159.54,216.06 159.86,216.68 159.72,217.30 159.56,217.92 159.90,218.53 160.61,219.15 161.09,219.77 160.92,220.38 160.40,221.00 160.15,221.62 160.34,222.24 160.53,222.86 160.19,223.47 159.44,224.09 158.90,224.71 158.98,225.32 159.41,225.94 159.58,226.56 159.32,227.18 159.08,227.80 159.39,228.41 160.14,229.03 160.73,229.65 160.73,230.26 160.38,230.88 160.29,231.50" fill="none" stroke="#62b6d8" stroke-width="2.6"/>
<polyline points="165.74,206.80 165.90,207.42 165.65,208.04 165.47,208.65 165.87,209.27 166.76,209.89 167.51,210.50 167.75,211.12 167.78,211.74 168.18,212.36 169.08,212.98 169.98,213.59 170.32,214.21 170.18,214.83 170.14,215.44 170.56,216.06 171.12,216.68 171.22,217.30 170.70,217.92 170.04,218.53 169.78,219.15 169.88,219.77 169.74,220.38 169.01,221.00 167.99,221.62 167.33,222.24 167.21,222.86 167.17,223.47 166.70,224.09 165.86,224.71 165.27,225.32 165.31,225.94 165.72,226.56 165.88,227.18 165.61,227.80 165.38,228.41 165.71,229.03 166.56,229.65 167.32,230.26 167.59,230.88 167.60,231.50" fill="none" stroke="#62b6d8" stroke-width="2.6"/>
<polyline points="171.21,206.80 171.15,207.42 170.53,208.04 169.94,208.65 169.82,209.27 169.91,209.89 169.64,210.50 168.78,211.12 167.80,211.74 167.29,212.36 167.25,212.98 167.13,213.59 166.52,214.21 165.68,214.83 165.23,215.44 165.41,216.06 165.80,216.68 165.84,217.30 165.51,217.92 165.38,218.53 165.88,219.15 166.76,219.77 167.41,220.38 167.56,221.00 167.61,221.62 168.12,222.24 169.08,222.86 169.92,223.47 170.17,224.09 170.03,224.71 170.10,225.32 170.63,225.94 171.19,226.56 171.20,227.18 170.63,227.80 170.05,228.41 169.92,229.03 170.05,229.65 169.83,230.26 169.01,230.88 168.03,231.50" fill="none" stroke="#62b6d8" stroke-width="2.6"/>
<polyline points="177.10,206.80 176.73,207.42 176.77,208.04 177.12,208.65 177.19,209.27 176.66,209.89 175.89,210.50 175.51,211.12 175.70,211.74 175.99,212.36 175.87,212.98 175.44,213.59 175.29,214.21 175.77,214.83 176.53,215.44 176.94,216.06 176.80,216.68 176.57,217.30 176.77,217.92 177.28,218.53 177.52,219.15 177.12,219.77 176.40,220.38 176.00,221.00 176.11,221.62 176.29,222.24 176.03,222.86 175.43,223.47 175.09,224.09 175.41,224.71 176.07,225.32 176.44,225.94 176.33,226.56 176.16,227.18 176.46,227.80 177.14,228.41 177.57,229.03 177.35,229.65 176.77,230.26 176.45,230.88 176.59,231.50" fill="none" stroke="#62b6d8" stroke-width="2.6"/>
<polyline points="181.44,206.80 181.78,207.42 182.22,208.04 182.16,208.65 181.53,209.27 180.86,209.89 180.68,210.50 180.91,211.12 180.97,211.74 180.55,212.36 180.02,212.98 179.98,213.59 180.55,214.21 181.18,214.83 181.35,215.44 181.14,216.06 181.12,216.68 181.60,217.30 182.22,217.92 182.36,218.53 181.88,219.15 181.31,219.77 181.17,220.38 181.39,221.00 181.39,221.62 180.87,222.24 180.18,222.86 179.95,223.47 180.33,224.09 180.83,224.71 180.91,225.32 180.65,225.94 180.63,226.56 181.17,227.18 181.92,227.80 182.23,228.41 181.94,229.03 181.53,229.65 181.52,230.26 181.83,230.88 181.90,231.50" fill="none" stroke="#62b6d8" stroke-width="2.6"/>
<polyline points="186.24,206.80 186.38,207.42 187.02,208.04 187.54,208.65 187.60,209.27 187.51,209.89 187.86,210.50 188.77,211.12 189.71,211.74 190.15,212.36 190.16,212.98 190.34,213.59 191.02,214.21 191.85,214.83 192.23,215.44 192.00,216.06 191.64,216.68 191.68,217.30 192.04,217.92 192.11,218.53 191.54,219.15 190.66,219.77 190.09,220.38 189.99,221.00 189.91,221.62 189.32,222.24 188.33,222.86 187.55,223.47 187.37,224.09 187.51,224.71 187.36,225.32 186.78,225.94 186.26,226.56 186.33,227.18 186.92,227.80 187.44,228.41 187.50,229.03 187.37,229.65 187.67,230.26 188.54,230.88 189.49,231.50" fill="none" stroke="#62b6d8" stroke-width="2.6"/>
<polyline points="191.87,206.80 192.31,207.42 192.27,208.04 191.62,208.65 190.87,209.27 190.55,209.89 190.57,210.50 190.37,211.12 189.59,211.74 188.58,212.36 187.95,212.98 187.88,213.59 187.90,214.21 187.49,214.83 186.74,215.44 186.27,216.06 186.45,216.68 186.98,217.30 187.24,217.92 187.07,218.53 186.95,219.15 187.40,219.77 188.33,220.38 189.13,221.00 189.40,221.62 189.43,222.24 189.80,222.86 190.66,223.47 191.53,224.09 191.83,224.71 191.63,225.32 191.50,225.94 191.83,226.56 192.31,227.18 192.35,227.80 191.76,228.41 191.02,229.03 190.69,229.65 190.72,230.26 190.56,230.88 189.83,231.50" fill="none" stroke="#62b6d8" stroke-width="2.6"/>
<polyline points="197.81,206.80 197.29,207.42 197.30,208.04 197.52,208.65 197.38,209.27 196.81,209.89 196.34,210.50 196.49,211.12 197.11,211.74 197.59,212.36 197.57,212.98 197.36,213.59 197.54,214.21 198.17,214.83 198.73,215.44 198.68,216.06 198.14,216.68 197.72,217.30 197.78,217.92 198.01,218.53 197.83,219.15 197.15,219.77 196.52,220.38 196.48,221.00 196.92,221.62 197.27,222.24 197.15,222.86 196.88,223.47 197.04,224.09 197.72,224.71 198.40,225.32 198.53,225.94 198.17,226.56 197.91,227.18 198.10,227.80 198.44,228.41 198.33,229.03 197.66,229.65 196.95,230.26 196.77,230.88 197.05,231.50" fill="none" stroke="#62b6d8" stroke-width="2.6"/>
<polyline points="202.93,206.80 202.99,207.42 202.48,208.04 201.71,208.65 201.34,209.27 201.57,209.89 201.95,210.50 201.95,211.12 201.61,211.74 201.50,212.36 201.98,212.98 202.76,213.59 203.19,214.21 203.03,214.83 202.72,215.44 202.80,216.06 203.22,216.68 203.42,217.30 202.99,217.92 202.22,218.53 201.77,219.15 201.88,219.77 202.12,220.38 201.97,221.00 201.46,221.62 201.17,222.24 201.53,222.86 202.25,223.47 202.70,224.09 202.62,224.71 202.42,225.32 202.63,225.94 203.22,226.56 203.60,227.18 203.34,227.80 202.68,228.41 202.27,229.03 202.35,229.65 202.53,230.26 202.28,230.88 201.62,231.50" fill="none" stroke="#62b6d8" stroke-width="2.6"/>
<polyline points="207.67,206.80 208.21,207.42 208.50,208.04 208.35,208.65 208.24,209.27 208.70,209.89 209.63,210.50 210.45,211.12 210.73,211.74 210.76,212.36 211.11,212.98 211.96,213.59 212.82,214.21 213.12,214.83 212.90,215.44 212.75,216.06 213.05,216.68 213.52,217.30 213.54,217.92 212.94,218.53 212.18,219.15 211.82,219.77 211.85,220.38 211.69,221.00 210.95,221.62 209.93,222.24 209.26,222.86 209.15,223.47 209.18,224.09 208.79,224.71 208.05,225.32 207.52,225.94 207.64,226.56 208.15,227.18 208.44,227.80 208.28,228.41 208.12,229.03 208.51,229.65 209.42,230.26 210.25,230.88 210.56,231.50" fill="none" stroke="#62b6d8" stroke-width="2.6"/>
<polyline points="212.89,206.80 212.85,207.42 213.16,208.04 213.27,208.65 212.75,209.27 211.85,209.89 211.20,210.50 211.05,211.12 210.99,211.74 210.48,212.36 209.51,212.98 208.69,213.59 208.46,214.21 208.61,214.83 208.55,215.44 208.04,216.06 207.51,216.68 207.52,217.30 208.11,217.92 208.70,218.53 208.84,219.15 208.73,219.77 208.96,220.38 209.79,221.00 210.78,221.62 211.33,222.24 211.38,222.86 211.49,223.47 212.08,224.09 212.93,224.71 213.43,225.32 213.29,225.94 212.91,226.56 212.86,227.18 213.20,227.80 213.36,228.41 212.91,229.03 212.04,229.65 211.38,230.26 211.21,230.88 211.18,231.50" fill="none" stroke="#62b6d8" stroke-width="2.6"/>
<polyline points="219.53,206.80 219.40,207.42 219.11,208.04 219.21,208.65 219.66,209.27 219.89,209.89 219.49,210.50 218.74,211.12 218.28,211.74 218.36,212.36 218.59,212.98 218.43,213.59 217.89,214.21 217.57,214.83 217.88,215.44 218.58,216.06 219.03,216.68 218.96,217.30 218.76,217.92 218.98,218.53 219.60,219.15 220.02,219.77 219.80,220.38 219.17,221.00 218.76,221.62 218.85,222.24 219.03,222.86 218.78,223.47 218.11,224.09 217.60,224.71 217.72,225.32 218.26,225.94 218.61,226.56 218.48,227.18 218.28,227.80 218.53,228.41 219.25,229.03 219.83,229.65 219.81,230.26 219.35,230.88 219.08,231.50" fill="none" stroke="#62b6d8" stroke-width="2.6"/>
<polyline points="224.01,206.80 224.57,207.42 224.52,208.04 224.10,208.65 223.92,209.27 224.19,209.89 224.44,210.50 224.16,211.12 223.41,211.74 222.80,212.36 222.79,212.98 223.12,213.59 223.22,214.21 222.88,214.83 222.54,215.44 222.77,216.06 223.49,216.68 224.11,217.30 224.17,217.92 223.90,218.53 223.88,219.15 224.30,219.77 224.72,220.38 224.58,221.00 223.91,221.62 223.30,222.24 223.22,222.86 223.46,223.47 223.42,224.09 222.92,224.71 222.40,225.32 222.45,225.94 223.05,226.56 223.62,227.18 223.69,227.80 223.47,228.41 223.54,229.03 224.10,229.65 224.71,230.26 224.76,230.88 224.25,231.50" fill="none" stroke="#62b6d8" stroke-width="2.6"/>
<polyline points="229.10,206.80 229.56,207.42 229.60,208.04 229.35,208.65 229.41,209.27 230.10,209.89 231.05,210.50 231.63,211.12 231.73,211.74 231.84,212.36 232.45,212.98 233.41,213.59 234.09,214.21 234.16,214.83 233.93,215.44 234.00,216.06 234.48,216.68 234.87,217.30 234.65,217.92 233.93,218.53 233.34,219.15 233.22,219.77 233.26,220.38 232.88,221.00 231.95,221.62 231.01,222.24 230.58,222.86 230.59,223.47 230.46,224.09 229.84,224.71 229.07,225.32 228.76,225.94 229.08,226.56 229.52,227.18 229.55,227.80 229.28,228.41 229.28,229.03 229.90,229.65 230.84,230.26 231.45,230.88 231.56,231.50" fill="none" stroke="#62b6d8" stroke-width="2.6"/>
<polyline points="234.84,206.80 234.31,207.42 233.84,208.04 233.83,208.65 234.00,209.27 233.75,209.89 232.91,210.50 231.97,211.12 231.48,211.74 231.44,212.36 231.26,212.98 230.58,213.59 229.66,214.21 229.16,214.83 229.27,215.44 229.55,216.06 229.45,216.68 229.01,217.30 228.81,217.92 229.25,218.53 230.06,219.15 230.62,219.77 230.70,220.38 230.74,221.00 231.27,221.62 232.26,222.24 233.11,222.86 233.39,223.47 233.31,224.09 233.49,224.71 234.12,225.32 234.77,225.94 234.85,226.56 234.38,227.18 233.92,227.80 233.90,228.41 234.10,229.03 233.92,229.65 233.13,230.26 232.18,230.88 231.67,231.50" fill="none" stroke="#62b6d8" stroke-width="2.6"/>
<polyline points="240.43,206.80 239.73,207.42 239.07,208.04 239.00,208.65 239.39,209.27 239.66,209.89 239.48,210.50 239.17,211.12 239.32,211.74 240.01,212.36 240.70,212.98 240.85,213.59 240.53,214.21 240.34,214.83 240.61,215.44 240.99,216.06 240.91,216.68 240.25,217.30 239.55,217.92 239.36,218.53 239.61,219.15 239.73,219.77 239.39,220.38 238.92,221.00 238.92,221.62 239.52,222.24 240.19,222.86 240.40,223.47 240.18,224.09 240.12,224.71 240.53,225.32 241.10,225.94 241.19,226.56 240.67,227.18 240.04,227.80 239.85,228.41 240.05,229.03 240.09,229.65 239.62,230.26 238.97,230.88 238.77,231.50" fill="none" stroke="#62b6d8" stroke-width="2.6"/>
<polyline points="244.63,206.80 244.09,207.42 244.13,208.04 244.44,208.65 244.42,209.27 244.00,209.89 243.69,210.50 243.98,211.12 244.71,211.74 245.26,212.36 245.26,212.98 245.01,213.59 245.09,214.21 245.59,214.83 246.00,215.44 245.80,216.06 245.12,216.68 244.59,217.30 244.58,217.92 244.80,218.53 244.67,219.15 244.09,219.77 243.59,220.38 243.70,221.00 244.30,221.62 244.78,222.24 244.77,222.86 244.56,223.47 244.72,224.09 245.35,224.71 245.94,225.32 245.93,225.94 245.42,226.56 245.00,227.18 245.05,227.80 245.29,228.41 245.13,229.03 244.46,229.65 243.81,230.26 243.73,230.88 244.15,231.50" fill="none" stroke="#62b6d8" stroke-width="2.6"/>
<polyline points="249.89,206.80 250.35,207.42 250.92,208.04 251.08,208.65 250.92,209.27 251.03,209.89 251.75,210.50 252.74,211.12 253.38,211.74 253.50,212.36 253.58,212.98 254.12,213.59 255.01,214.21 255.66,214.83 255.66,215.44 255.34,216.06 255.28,216.68 255.65,217.30 255.95,217.92 255.66,218.53 254.86,219.15 254.17,219.77 253.97,220.38 253.97,221.00 253.59,221.62 252.68,222.24 251.73,222.86 251.31,223.47 251.36,224.09 251.32,224.71 250.81,225.32 250.12,225.94 249.89,226.56 250.28,227.18 250.84,227.80 251.00,228.41 250.82,229.03 250.87,229.65 251.54,230.26 252.52,230.88 253.19,231.50" fill="none" stroke="#62b6d8" stroke-width="2.6"/>
<polyline points="255.26,206.80 255.44,207.42 255.79,208.04 255.70,208.65 254.99,209.27 254.15,209.89 253.72,210.50 253.69,211.12 253.51,211.74 252.77,212.36 251.77,212.98 251.13,213.59 251.09,214.21 251.20,214.83 250.91,215.44 250.28,216.06 249.87,216.68 250.11,217.30 250.74,217.92 251.14,218.53 251.09,219.15 251.02,219.77 251.48,220.38 252.44,221.00 253.30,221.62 253.62,222.24 253.63,222.86 253.92,223.47 254.71,224.09 255.52,224.71 255.80,225.32 255.52,225.94 255.26,226.56 255.44,227.18 255.83,227.80 255.81,228.41 255.17,229.03 254.33,229.65 253.88,230.26 253.86,230.88 253.70,231.50" fill="none" stroke="#62b6d8" stroke-width="2.6"/>
<polyline points="261.32,206.80 261.61,207.42 261.42,208.04 261.31,208.65 261.67,209.27 262.25,209.89 262.45,210.50 262.00,211.12 261.34,211.74 261.08,212.36 261.26,212.98 261.35,213.59 260.94,214.21 260.27,214.83 259.98,215.44 260.34,216.06 260.92,216.68 261.13,217.30 260.94,217.92 260.84,218.53 261.28,219.15 262.01,219.77 262.39,220.38 262.13,221.00 261.63,221.62 261.48,222.24 261.73,222.86 261.85,223.47 261.41,224.09 260.64,224.71 260.19,225.32 260.36,225.94 260.77,226.56 260.85,227.18 260.54,227.80 260.36,228.41 260.77,229.03 261.55,229.65 262.05,230.26 261.95,230.88 261.62,231.50" fill="none" stroke="#62b6d8" stroke-width="2.6"/>
<polyline points="265.41,206.80 266.16,207.42 266.75,208.04 266.76,208.65 266.44,209.27 266.38,209.89 266.76,210.50 267.09,211.12 266.86,211.74 266.14,212.36 265.54,212.98 265.49,213.59 265.75,214.21 265.74,214.83 265.28,215.44 264.85,216.06 265.00,216.68 265.67,217.30 266.25,217.92 266.31,218.53 266.08,219.15 266.15,219.77 266.68,220.38 267.20,221.00 267.15,221.62 266.56,222.24 266.02,222.86 265.98,223.47 266.20,224.09 266.10,224.71 265.51,225.32 264.90,225.94 264.85,226.56 265.36,227.18 265.83,227.80 265.83,228.41 265.60,229.03 265.69,229.65 266.32,230.26 267.00,230.88 267.14,231.50" fill="none" stroke="#62b6d8" stroke-width="2.6"/>
<polyline points="271.98,206.80 271.77,207.42 271.42,208.04 271.55,208.65 272.29,209.27 273.11,209.89 273.49,210.50 273.51,211.12 273.73,211.74 274.51,212.36 275.51,212.98 276.10,213.59 276.11,214.21 276.02,214.83 276.35,215.44 277.00,216.06 277.38,216.68 277.10,217.30 276.47,217.92 276.11,218.53 276.19,219.15 276.24,219.77 275.73,220.38 274.76,221.00 273.93,221.62 273.65,222.24 273.64,222.86 273.31,223.47 272.49,224.09 271.70,224.71 271.47,225.32 271.76,225.94 271.99,226.56 271.76,227.18 271.38,227.80 271.44,228.41 272.11,229.03 272.93,229.65 273.33,230.26 273.34,230.88 273.53,231.50" fill="none" stroke="#62b6d8" stroke-width="2.6"/>
<polyline points="277.21,206.80 276.66,207.42 276.28,208.04 276.36,208.65 276.51,209.27 276.15,209.89 275.25,210.50 274.37,211.12 274.00,211.74 273.97,212.36 273.70,212.98 272.92,213.59 272.03,214.21 271.63,214.83 271.81,215.44 272.03,216.06 271.82,216.68 271.36,217.30 271.25,217.92 271.78,218.53 272.58,219.15 273.02,219.77 273.04,220.38 273.13,221.00 273.78,221.62 274.80,222.24 275.56,222.86 275.73,223.47 275.67,224.09 275.96,224.71 276.67,225.32 277.26,225.94 277.22,226.56 276.72,227.18 276.35,227.80 276.44,228.41 276.63,229.03 276.33,229.65 275.47,230.26 274.58,230.88 274.18,231.50" fill="none" stroke="#62b6d8" stroke-width="2.6"/>
<polyline points="281.76,206.80 282.48,207.42 282.80,208.04 282.64,208.65 282.50,209.27 282.83,209.89 283.43,210.50 283.68,211.12 283.28,211.74 282.63,212.36 282.32,212.98 282.48,213.59 282.60,214.21 282.23,214.83 281.55,215.44 281.20,216.06 281.50,216.68 282.09,217.30 282.34,217.92 282.16,218.53 282.03,219.15 282.43,219.77 283.16,220.38 283.59,221.00 283.39,221.62 282.89,222.24 282.70,222.86 282.94,223.47 283.10,224.09 282.71,224.71 281.94,225.32 281.44,225.94 281.56,226.56 281.97,227.18 282.08,227.80 281.78,228.41 281.56,229.03 281.91,229.65 282.68,230.26 283.23,230.88 283.18,231.50" fill="none" stroke="#62b6d8" stroke-width="2.6"/>
<polyline points="286.76,206.80 287.37,207.42 287.47,208.04 287.25,208.65 287.28,209.27 287.80,209.89 288.38,210.50 288.42,211.12 287.89,211.74 287.33,212.36 287.25,212.98 287.47,213.59 287.42,214.21 286.85,214.83 286.20,215.44 286.06,216.06 286.50,216.68 286.98,217.30 287.02,217.92 286.77,218.53 286.81,219.15 287.40,219.77 288.12,220.38 288.34,221.00 287.99,221.62 287.59,222.24 287.62,222.86 287.93,223.47 287.92,224.09 287.34,224.71 286.58,225.32 286.29,225.94 286.55,226.56 286.87,227.18 286.76,227.80 286.38,228.41 286.33,229.03 286.88,229.65 287.64,230.26 287.99,230.88 287.79,231.50" fill="none" stroke="#62b6d8" stroke-width="2.6"/>
<polyline points="292.32,206.80 292.77,207.42 293.35,208.04 293.54,208.65 293.38,209.27 293.48,209.89 294.18,210.50 295.17,211.12 295.83,211.74 295.96,212.36 296.03,212.98 296.54,213.59 297.44,214.21 298.10,214.83 298.12,215.44 297.79,216.06 297.72,216.68 298.07,217.30 298.38,217.92 298.11,218.53 297.32,219.15 296.61,219.77 296.39,220.38 296.40,221.00 296.04,221.62 295.14,222.24 294.18,222.86 293.74,223.47 293.79,224.09 293.76,224.71 293.26,225.32 292.58,225.94 292.32,226.56 292.70,227.18 293.27,227.80 293.45,228.41 293.28,229.03 293.32,229.65 293.96,230.26 294.95,230.88 295.63,231.50" fill="none" stroke="#62b6d8" stroke-width="2.6"/>
<polyline points="298.34,206.80 297.80,207.42 297.53,208.04 297.68,208.65 297.78,209.27 297.31,209.89 296.37,210.50 295.57,211.12 295.30,211.74 295.28,212.36 294.90,212.98 294.04,213.59 293.19,214.21 292.91,214.83 293.13,215.44 293.27,216.06 292.96,216.68 292.49,217.30 292.48,217.92 293.10,218.53 293.85,219.15 294.19,219.77 294.16,220.38 294.33,221.00 295.08,221.62 296.10,222.24 296.76,222.86 296.85,223.47 296.83,224.09 297.24,224.71 297.99,225.32 298.50,225.94 298.36,226.56 297.85,227.18 297.59,227.80 297.75,228.41 297.90,229.03 297.50,229.65 296.59,230.26 295.77,230.88 295.48,231.50" fill="none" stroke="#62b6d8" stroke-width="2.6"/>
<polyline points="304.47,206.80 304.20,207.42 303.99,208.04 304.23,208.65 304.66,209.27 304.65,209.89 304.04,210.50 303.32,211.12 303.07,211.74 303.29,212.36 303.43,212.98 303.11,213.59 302.60,214.21 302.52,214.83 303.06,215.44 303.75,216.06 304.00,216.68 303.81,217.30 303.72,217.92 304.11,218.53 304.71,219.15 304.89,219.77 304.43,220.38 303.79,221.00 303.56,221.62 303.75,222.24 303.82,222.86 303.38,223.47 302.71,224.09 302.43,224.71 302.79,225.32 303.35,225.94 303.54,226.56 303.32,227.18 303.25,227.80 303.71,228.41 304.45,229.03 304.81,229.65 304.55,230.26 304.07,230.88 303.95,231.50" fill="none" stroke="#62b6d8" stroke-width="2.6"/>
<polyline points="309.25,206.80 308.96,207.42 308.79,208.04 309.06,208.65 309.48,209.27 309.44,209.89 308.81,210.50 308.10,211.12 307.89,211.74 308.12,212.36 308.24,212.98 307.88,213.59 307.37,214.21 307.33,214.83 307.89,215.44 308.56,216.06 308.78,216.68 308.58,217.30 308.51,217.92 308.94,218.53 309.53,219.15 309.68,219.77 309.20,220.38 308.58,221.00 308.38,221.62 308.58,222.24 308.63,222.86 308.15,223.47 307.48,224.09 307.24,224.71 307.63,225.32 308.17,225.94 308.32,226.56 308.09,227.18 308.04,227.80 308.54,228.41 309.28,229.03 309.61,229.65 309.31,230.26 308.85,230.88 308.77,231.50" fill="none" stroke="#62b6d8" stroke-width="2.6"/>
<polyline points="313.94,206.80 313.60,207.42 313.87,208.04 314.61,208.65 315.19,209.27 315.30,209.89 315.27,210.50 315.69,211.12 316.64,211.74 317.56,212.36 317.95,212.98 317.92,213.59 318.07,214.21 318.71,214.83 319.46,215.44 319.71,216.06 319.36,216.68 318.92,217.30 318.89,217.92 319.16,218.53 319.12,219.15 318.45,219.77 317.51,220.38 316.92,221.00 316.82,221.62 316.72,222.24 316.11,222.86 315.14,223.47 314.44,224.09 314.36,224.71 314.57,225.32 314.49,225.94 313.98,226.56 313.58,227.18 313.78,227.80 314.47,228.41 315.06,229.03 315.16,229.65 315.11,230.26 315.48,230.88 316.40,231.50" fill="none" stroke="#62b6d8" stroke-width="2.6"/>
<polyline points="319.76,206.80 319.67,207.42 319.05,208.04 318.48,208.65 318.38,209.27 318.47,209.89 318.17,210.50 317.30,211.12 316.33,211.74 315.84,212.36 315.81,212.98 315.67,213.59 315.04,214.21 314.20,214.83 313.77,215.44 313.98,216.06 314.36,216.68 314.37,217.30 314.03,217.92 313.92,218.53 314.44,219.15 315.32,219.77 315.95,220.38 316.07,221.00 316.14,221.62 316.67,222.24 317.65,222.86 318.47,223.47 318.69,224.09 318.55,224.71 318.65,225.32 319.19,225.94 319.74,226.56 319.72,227.18 319.15,227.80 318.59,228.41 318.48,229.03 318.61,229.65 318.36,230.26 317.53,230.88 316.55,231.50" fill="none" stroke="#62b6d8" stroke-width="2.6"/>
<polyline points="355.62,183.00 355.52,183.63 356.08,184.26 356.77,184.90 357.03,185.53 356.95,186.16 357.15,186.80 357.97,187.43 359.00,188.06 359.58,188.69 359.63,189.32 359.72,189.96 360.31,190.59 361.15,191.22 361.56,191.86 361.32,192.49 360.90,193.12 360.88,193.75 361.20,194.38 361.23,195.02 360.59,195.65 359.66,196.28 359.10,196.92 359.02,197.55 358.88,198.18 358.19,198.81 357.18,199.44 356.52,200.08 356.49,200.71 356.64,201.34 356.39,201.98 355.79,202.61 355.46,203.24 355.81,203.87 356.51,204.50 356.90,205.14 356.84,205.77 356.88,206.40 357.50,207.04 358.54,207.67 359.30,208.30" fill="none" stroke="#62b6d8" stroke-width="2.6"/>
<polyline points="361.58,183.00 361.68,183.63 361.12,184.26 360.43,184.90 360.17,185.53 360.25,186.16 360.05,186.80 359.23,187.43 358.21,188.06 357.62,188.69 357.57,189.32 357.48,189.96 356.89,190.59 356.05,191.22 355.64,191.86 355.88,192.49 356.30,193.12 356.32,193.75 356.00,194.38 355.97,195.02 356.61,195.65 357.54,196.28 358.10,196.92 358.18,197.55 358.32,198.18 359.01,198.81 360.02,199.44 360.68,200.08 360.71,200.71 360.56,201.34 360.81,201.98 361.41,202.61 361.74,203.24 361.39,203.87 360.69,204.50 360.30,205.14 360.36,205.77 360.32,206.40 359.70,207.04 358.66,207.67 357.90,208.30" fill="none" stroke="#62b6d8" stroke-width="2.6"/>
<polyline points="367.17,183.00 367.84,183.63 367.91,184.26 367.47,184.90 367.16,185.53 367.32,186.16 367.59,186.80 367.37,187.43 366.62,188.06 365.98,188.69 365.96,189.32 366.34,189.96 366.49,190.59 366.18,191.22 365.89,191.86 366.19,192.49 366.97,193.12 367.55,193.75 367.52,194.38 367.21,195.02 367.24,195.65 367.68,196.28 367.97,196.92 367.61,197.55 366.84,198.18 366.36,198.81 366.45,199.44 366.67,200.08 366.47,200.71 365.92,201.34 365.64,201.98 366.03,202.61 366.75,203.24 367.11,203.87 366.97,204.50 366.83,205.14 367.19,205.77 367.83,206.40 368.09,207.04 367.68,207.67 367.05,208.30" fill="none" stroke="#62b6d8" stroke-width="2.6"/>
<polyline points="371.59,183.00 372.27,183.63 372.82,184.26 372.73,184.90 372.17,185.53 371.82,186.16 371.96,186.80 372.16,187.43 371.85,188.06 371.10,188.69 370.56,189.32 370.69,189.96 371.16,190.59 371.34,191.22 371.08,191.86 370.91,192.49 371.32,193.12 372.11,193.75 372.60,194.38 372.45,195.02 372.07,195.65 372.06,196.28 372.44,196.92 372.59,197.55 372.10,198.18 371.31,198.81 370.90,199.44 371.07,200.08 371.34,200.71 371.16,201.34 370.69,201.98 370.57,202.61 371.10,203.24 371.86,203.87 372.17,204.50 371.98,205.14 371.83,205.77 372.17,206.40 372.72,207.04 372.82,207.67 372.26,208.30" fill="none" stroke="#62b6d8" stroke-width="2.6"/>
<polyline points="377.09,183.00 377.62,183.63 377.78,184.26 377.56,184.90 377.56,185.53 378.21,186.16 379.19,186.80 379.84,187.43 379.96,188.06 380.07,188.69 380.68,189.32 381.65,189.96 382.31,190.59 382.32,191.22 382.07,191.86 382.18,192.49 382.68,193.12 382.97,193.75 382.59,194.38 381.80,195.02 381.29,195.65 381.25,196.28 381.21,196.92 380.61,197.55 379.58,198.18 378.77,198.81 378.56,199.44 378.60,200.08 378.27,200.71 377.50,201.34 376.90,201.98 376.96,202.61 377.46,203.24 377.74,203.87 377.56,204.50 377.39,205.14 377.82,205.77 378.75,206.40 379.54,207.04 379.79,207.67 379.83,208.30" fill="none" stroke="#62b6d8" stroke-width="2.6"/>
<polyline points="382.62,183.00 382.14,183.63 382.07,184.26 382.32,184.90 382.24,185.53 381.51,186.16 380.55,186.80 379.99,187.43 379.92,188.06 379.76,188.69 379.05,189.32 378.08,189.96 377.50,190.59 377.56,191.22 377.77,191.86 377.57,192.49 377.04,193.12 376.83,193.75 377.29,194.38 378.06,195.02 378.48,195.65 378.46,196.28 378.56,196.92 379.25,197.55 380.30,198.18 381.02,198.81 381.15,199.44 381.15,200.08 381.58,200.71 382.38,201.34 382.91,201.98 382.76,202.61 382.27,203.24 382.09,203.87 382.33,204.50 382.44,205.14 381.92,205.77 380.97,206.40 380.26,207.04 380.09,207.67 380.02,208.30" fill="none" stroke="#62b6d8" stroke-width="2.6"/>
<polyline points="388.41,183.00 387.76,183.63 387.66,184.26 387.92,184.90 387.90,185.53 387.41,186.16 386.96,186.80 387.13,187.43 387.81,188.06 388.36,188.69 388.36,189.32 388.14,189.96 388.31,190.59 388.92,191.22 389.38,191.86 389.18,192.49 388.54,193.12 388.13,193.75 388.24,194.38 388.41,195.02 388.10,195.65 387.39,196.28 386.94,196.92 387.17,197.55 387.73,198.18 387.98,198.81 387.78,199.44 387.65,200.08 388.08,200.71 388.85,201.34 389.27,201.98 389.03,202.61 388.56,203.24 388.48,203.87 388.78,204.50 388.86,205.14 388.34,205.77 387.55,206.40 387.19,207.04 387.43,207.67 387.77,208.30" fill="none" stroke="#62b6d8" stroke-width="2.6"/>
<polyline points="393.15,183.00 392.55,183.63 392.52,184.26 392.76,184.90 392.68,185.53 392.15,186.16 391.74,186.80 391.97,187.43 392.67,188.06 393.15,188.69 393.10,189.32 392.90,189.96 393.14,190.59 393.78,191.22 394.19,191.86 393.93,192.49 393.30,193.12 392.95,193.75 393.09,194.38 393.24,195.02 392.86,195.65 392.14,196.28 391.74,196.92 392.02,197.55 392.57,198.18 392.75,198.81 392.52,199.44 392.44,200.08 392.93,200.71 393.70,201.34 394.05,201.98 393.77,202.61 393.34,203.24 393.32,203.87 393.64,204.50 393.67,205.14 393.08,205.77 392.31,206.40 392.01,207.04 392.29,207.67 392.59,208.30" fill="none" stroke="#62b6d8" stroke-width="2.6"/>
<polyline points="398.94,183.00 398.63,183.63 398.32,184.26 398.61,184.90 399.44,185.53 400.18,186.16 400.39,186.80 400.40,187.43 400.84,188.06 401.80,188.69 402.72,189.32 403.05,189.96 402.94,190.59 403.04,191.22 403.63,191.86 404.24,192.49 404.27,193.12 403.71,193.75 403.20,194.38 403.17,195.02 403.31,195.65 403.01,196.28 402.11,196.92 401.16,197.55 400.74,198.18 400.72,198.81 400.46,199.44 399.68,200.08 398.81,200.71 398.48,201.34 398.73,201.98 398.96,202.61 398.74,203.24 398.32,203.87 398.37,204.50 399.06,205.14 399.87,205.77 400.22,206.40 400.22,207.04 400.47,207.67 401.31,208.30" fill="none" stroke="#62b6d8" stroke-width="2.6"/>
<polyline points="403.69,183.00 403.40,183.63 403.58,184.26 403.80,184.90 403.46,185.53 402.57,186.16 401.75,186.80 401.47,187.43 401.44,188.06 401.04,188.69 400.12,189.32 399.23,189.96 398.93,190.59 399.10,191.22 399.12,191.86 398.67,192.49 398.15,193.12 398.19,193.75 398.83,194.38 399.47,195.02 399.62,195.65 399.54,196.28 399.87,196.92 400.78,197.55 401.76,198.18 402.21,198.81 402.21,199.44 402.39,200.08 403.08,200.71 403.88,201.34 404.16,201.98 403.82,202.61 403.46,203.24 403.54,203.87 403.86,204.50 403.75,205.14 403.00,205.77 402.10,206.40 401.66,207.04 401.63,207.67 401.40,208.30" fill="none" stroke="#62b6d8" stroke-width="2.6"/>
<polyline points="410.46,183.00 410.68,183.63 410.23,184.26 409.56,184.90 409.32,185.53 409.51,186.16 409.56,186.80 409.09,187.43 408.42,188.06 408.23,188.69 408.68,189.32 409.24,189.96 409.34,190.59 409.10,191.22 409.14,191.86 409.74,192.49 410.44,193.12 410.59,193.75 410.16,194.38 409.74,195.02 409.79,195.65 410.07,196.28 409.94,196.92 409.25,197.55 408.56,198.18 408.45,198.81 408.84,199.44 409.11,200.08 408.90,200.71 408.60,201.34 408.80,201.98 409.54,202.61 410.20,203.24 410.25,203.87 409.91,204.50 409.81,205.14 410.17,205.77 410.49,206.40 410.22,207.04 409.46,207.67 408.88,208.30" fill="none" stroke="#62b6d8" stroke-width="2.6"/>
<polyline points="415.30,183.00 414.79,183.63 414.49,184.26 414.67,184.90 414.87,185.53 414.54,186.16 413.77,186.80 413.23,187.43 413.34,188.06 413.77,188.69 413.90,189.32 413.59,189.96 413.41,190.59 413.82,191.22 414.62,191.86 415.10,192.49 414.96,193.12 414.63,193.75 414.69,194.38 415.10,195.02 415.27,195.65 414.79,196.28 414.00,196.92 413.61,197.55 413.77,198.18 413.99,198.81 413.76,199.44 413.25,200.08 413.11,200.71 413.63,201.34 414.36,201.98 414.65,202.61 414.46,203.24 414.35,203.87 414.75,204.50 415.33,205.14 415.45,205.77 414.91,206.40 414.27,207.04 414.11,207.67 414.32,208.30" fill="none" stroke="#62b6d8" stroke-width="2.6"/>
<polyline points="419.44,183.00 419.97,183.63 420.46,184.26 420.47,184.90 420.31,185.53 420.61,186.16 421.51,186.80 422.44,187.43 422.85,188.06 422.88,188.69 423.14,189.32 423.94,189.96 424.83,190.59 425.17,191.22 424.93,191.86 424.72,192.49 424.98,193.12 425.41,193.75 425.38,194.38 424.70,195.02 423.90,195.65 423.57,196.28 423.59,196.92 423.33,197.55 422.48,198.18 421.47,198.81 420.93,199.44 420.93,200.08 420.91,200.71 420.40,201.34 419.67,201.98 419.39,202.61 419.76,203.24 420.30,203.87 420.43,204.50 420.22,205.14 420.31,205.77 421.04,206.40 422.03,207.04 422.62,207.67 422.70,208.30" fill="none" stroke="#62b6d8" stroke-width="2.6"/>
<polyline points="425.39,183.00 424.83,183.63 424.58,184.26 424.75,184.90 424.82,185.53 424.26,186.16 423.28,186.80 422.54,187.43 422.35,188.06 422.29,188.69 421.78,189.32 420.83,189.96 420.09,190.59 420.00,191.22 420.27,191.86 420.26,192.49 419.81,193.12 419.46,193.75 419.74,194.38 420.52,195.02 421.13,195.65 421.24,196.28 421.24,196.92 421.74,197.55 422.74,198.18 423.62,198.81 423.92,199.44 423.86,200.08 424.10,200.71 424.81,201.34 425.47,201.98 425.50,202.61 425.02,203.24 424.65,203.87 424.76,204.50 424.96,205.14 424.63,205.77 423.74,206.40 422.87,207.04 422.53,207.67 422.50,208.30" fill="none" stroke="#62b6d8" stroke-width="2.6"/>
<polyline points="431.40,183.00 431.22,183.63 431.01,184.26 431.24,184.90 431.75,185.53 431.89,186.16 431.36,186.80 430.63,187.43 430.35,188.06 430.54,188.69 430.64,189.32 430.24,189.96 429.66,190.59 429.56,191.22 430.10,191.86 430.73,192.49 430.89,193.12 430.68,193.75 430.69,194.38 431.24,195.02 431.86,195.65 431.93,196.28 431.41,196.92 430.89,197.55 430.87,198.18 431.10,198.81 430.97,199.44 430.32,200.08 429.68,200.71 429.64,201.34 430.13,201.98 430.50,202.61 430.38,203.24 430.13,203.87 430.36,204.50 431.10,205.14 431.72,205.77 431.72,206.40 431.29,207.04 431.09,207.67 431.35,208.30" fill="none" stroke="#62b6d8" stroke-width="2.6"/>
<polyline points="435.33,183.00 435.86,183.63 436.55,184.26 436.74,184.90 436.31,185.53 435.81,186.16 435.78,186.80 436.03,187.43 435.96,188.06 435.32,188.69 434.62,189.32 434.47,189.96 434.88,190.59 435.23,191.22 435.11,191.86 434.81,192.49 434.97,193.12 435.68,193.75 436.36,194.38 436.46,195.02 436.10,195.65 435.90,196.28 436.18,196.92 436.50,197.55 436.28,198.18 435.53,198.81 434.90,199.44 434.86,200.08 435.17,200.71 435.20,201.34 434.77,201.98 434.43,202.61 434.71,203.24 435.46,203.87 436.01,204.50 435.97,205.14 435.73,205.77 435.87,206.40 436.42,207.04 436.77,207.67 436.45,208.30" fill="none" stroke="#62b6d8" stroke-width="2.6"/>
<polyline points="440.90,183.00 440.70,183.63 441.19,184.26 441.93,184.90 442.29,185.53 442.24,186.16 442.36,186.80 443.09,187.43 444.13,188.06 444.81,188.69 444.92,189.32 444.95,189.96 445.44,190.59 446.27,191.22 446.78,191.86 446.61,192.49 446.15,193.12 446.03,193.75 446.31,194.38 446.41,195.02 445.87,195.65 444.93,196.28 444.27,196.92 444.13,197.55 444.04,198.18 443.46,198.81 442.46,199.44 441.71,200.08 441.60,200.71 441.79,201.34 441.64,201.98 441.08,202.61 440.68,203.24 440.93,203.87 441.63,204.50 442.13,205.14 442.14,205.77 442.12,206.40 442.64,207.04 443.65,207.67 444.50,208.30" fill="none" stroke="#62b6d8" stroke-width="2.6"/>
<polyline points="446.05,183.00 446.32,183.63 446.65,184.26 446.42,184.90 445.61,185.53 444.83,186.16 444.56,186.80 444.56,187.43 444.18,188.06 443.25,188.69 442.30,189.32 441.92,189.96 442.01,190.59 441.96,191.22 441.42,191.86 440.79,192.49 440.71,193.12 441.23,193.75 441.79,194.38 441.88,195.02 441.73,195.65 441.98,196.28 442.84,196.92 443.81,197.55 444.29,198.18 444.33,198.81 444.53,199.44 445.27,200.08 446.16,200.71 446.55,201.34 446.32,201.98 446.05,202.61 446.22,203.24 446.64,203.87 446.65,204.50 445.99,205.14 445.16,205.77 444.74,206.40 444.73,207.04 444.53,207.67 443.74,208.30" fill="none" stroke="#62b6d8" stroke-width="2.6"/>
<polyline points="450.98,183.00 451.08,183.63 451.76,184.26 452.43,184.90 452.54,185.53 452.28,186.16 452.29,186.80 452.77,187.43 453.23,188.06 453.09,188.69 452.41,189.32 451.86,189.96 451.84,190.59 452.06,191.22 451.91,191.86 451.30,192.49 450.82,193.12 451.00,193.75 451.63,194.38 452.06,195.02 451.97,195.65 451.79,196.28 452.08,196.92 452.78,197.55 453.25,198.18 453.05,198.81 452.49,199.44 452.22,200.08 452.42,200.71 452.56,201.34 452.14,201.98 451.38,202.61 450.94,203.24 451.16,203.87 451.62,204.50 451.72,205.14 451.42,205.77 451.33,206.40 451.83,207.04 452.62,207.67 453.01,208.30" fill="none" stroke="#62b6d8" stroke-width="2.6"/>
<polyline points="456.22,183.00 456.72,183.63 456.73,184.26 456.50,184.90 456.65,185.53 457.32,186.16 457.94,186.80 457.95,187.43 457.45,188.06 457.09,188.69 457.22,189.32 457.46,189.96 457.21,190.59 456.46,191.22 455.86,191.86 455.89,192.49 456.32,193.12 456.51,193.75 456.24,194.38 456.01,195.02 456.35,195.65 457.13,196.28 457.69,196.92 457.62,197.55 457.26,198.18 457.25,198.81 457.65,199.44 457.88,200.08 457.47,200.71 456.68,201.34 456.21,201.98 456.32,202.61 456.58,203.24 456.42,203.87 455.91,204.50 455.69,205.14 456.15,205.77 456.89,206.40 457.26,207.04 457.11,207.67 456.95,208.30" fill="none" stroke="#62b6d8" stroke-width="2.6"/>
<polyline points="462.00,183.00 462.51,183.63 463.05,184.26 463.13,184.90 462.96,185.53 463.19,186.16 464.04,186.80 465.01,187.43 465.50,188.06 465.54,188.69 465.74,189.32 466.48,189.96 467.38,190.59 467.80,191.22 467.60,191.86 467.34,192.49 467.52,193.12 467.95,193.75 467.99,194.38 467.36,195.02 466.54,195.65 466.13,196.28 466.12,196.92 465.93,197.55 465.15,198.18 464.11,198.81 463.50,199.44 463.47,200.08 463.49,200.71 463.06,201.34 462.33,201.98 461.97,202.61 462.30,203.24 462.87,203.87 463.07,204.50 462.89,205.14 462.91,205.77 463.58,206.40 464.58,207.04 465.24,207.67 465.37,208.30" fill="none" stroke="#62b6d8" stroke-width="2.6"/>
<polyline points="467.81,183.00 468.17,183.63 467.89,184.26 467.12,184.90 466.54,185.53 466.46,186.16 466.47,186.80 465.96,187.43 464.95,188.06 464.07,188.69 463.79,189.32 463.83,189.96 463.56,190.59 462.83,191.22 462.16,191.86 462.12,192.49 462.59,193.12 462.92,193.75 462.79,194.38 462.57,195.02 462.90,195.65 463.79,196.28 464.64,196.92 464.96,197.55 464.98,198.18 465.35,198.81 466.24,199.44 467.14,200.08 467.46,200.71 467.28,201.34 467.21,201.98 467.62,202.61 468.13,203.24 468.10,203.87 467.45,204.50 466.78,205.14 466.58,205.77 466.65,206.40 466.35,207.04 465.45,207.67 464.45,208.30" fill="none" stroke="#62b6d8" stroke-width="2.6"/>
<polyline points="473.62,183.00 473.47,183.63 473.80,184.26 474.39,184.90 474.56,185.53 474.07,186.16 473.40,186.80 473.17,187.43 473.37,188.06 473.41,188.69 472.93,189.32 472.28,189.96 472.14,190.59 472.62,191.22 473.18,191.86 473.28,192.49 473.04,193.12 473.10,193.75 473.71,194.38 474.39,195.02 474.50,195.65 474.03,196.28 473.61,196.92 473.67,197.55 473.93,198.18 473.77,198.81 473.07,199.44 472.40,200.08 472.34,200.71 472.75,201.34 473.02,201.98 472.81,202.61 472.53,203.24 472.77,203.87 473.53,204.50 474.16,205.14 474.17,205.77 473.82,206.40 473.72,207.04 474.07,207.67 474.37,208.30" fill="none" stroke="#62b6d8" stroke-width="2.6"/>
<polyline points="478.08,183.00 478.34,183.63 478.99,184.26 479.39,184.90 479.12,185.53 478.49,186.16 478.17,186.80 478.33,187.43 478.46,188.06 478.06,188.69 477.33,189.32 476.95,189.96 477.24,190.59 477.77,191.22 477.93,191.86 477.69,192.49 477.62,193.12 478.13,193.75 478.90,194.38 479.24,195.02 478.95,195.65 478.53,196.28 478.54,196.92 478.87,197.55 478.88,198.18 478.28,198.81 477.51,199.44 477.23,200.08 477.52,200.71 477.80,201.34 477.61,201.98 477.22,202.61 477.26,203.24 477.91,203.87 478.64,204.50 478.84,205.14 478.58,205.77 478.44,206.40 478.79,207.04 479.24,207.67 479.16,208.30" fill="none" stroke="#62b6d8" stroke-width="2.6"/>
<polyline points="483.40,183.00 483.95,183.63 484.36,184.26 484.29,184.90 484.15,185.53 484.55,186.16 485.49,186.80 486.36,187.43 486.68,188.06 486.70,188.69 487.06,189.32 487.93,189.96 488.77,190.59 489.01,191.22 488.75,191.86 488.62,192.49 488.96,193.12 489.37,193.75 489.24,194.38 488.51,195.02 487.78,195.65 487.54,196.28 487.56,196.92 487.22,197.55 486.30,198.18 485.32,198.81 484.88,199.44 484.92,200.08 484.82,200.71 484.22,201.34 483.51,201.98 483.32,202.61 483.75,203.24 484.23,203.87 484.26,204.50 484.04,205.14 484.22,205.77 485.03,206.40 485.98,207.04 486.47,207.67 486.52,208.30" fill="none" stroke="#62b6d8" stroke-width="2.6"/>
<polyline points="488.65,183.00 488.94,183.63 489.26,184.26 489.01,184.90 488.19,185.53 487.43,186.16 487.18,186.80 487.17,187.43 486.78,188.06 485.84,188.69 484.90,189.32 484.53,189.96 484.63,190.59 484.56,191.22 484.01,191.86 483.38,192.49 483.31,193.12 483.85,193.75 484.39,194.38 484.47,195.02 484.31,195.65 484.58,196.28 485.46,196.92 486.42,197.55 486.88,198.18 486.92,198.81 487.13,199.44 487.88,200.08 488.77,200.71 489.14,201.34 488.91,201.98 488.64,202.61 488.83,203.24 489.25,203.87 489.24,204.50 488.58,205.14 487.75,205.77 487.35,206.40 487.35,207.04 487.13,207.67 486.32,208.30" fill="none" stroke="#62b6d8" stroke-width="2.6"/>
<polyline points="493.99,183.00 494.29,183.63 494.32,184.26 493.90,184.90 493.52,185.53 493.74,186.16 494.47,186.80 495.04,187.43 495.04,188.06 494.80,188.69 494.92,189.32 495.48,189.96 495.87,190.59 495.61,191.22 494.92,191.86 494.47,192.49 494.55,193.12 494.73,193.75 494.45,194.38 493.79,195.02 493.40,195.65 493.69,196.28 494.32,196.92 494.62,197.55 494.46,198.18 494.34,198.81 494.75,199.44 495.48,200.08 495.85,200.71 495.55,201.34 495.02,201.98 494.88,202.61 495.13,203.24 495.18,203.87 494.66,204.50 493.89,205.14 493.57,205.77 493.87,206.40 494.28,207.04 494.25,207.67 493.92,208.30" fill="none" stroke="#62b6d8" stroke-width="2.6"/>
<polyline points="498.59,183.00 498.67,183.63 499.03,184.26 499.05,184.90 498.66,185.53 498.44,186.16 498.86,186.80 499.64,187.43 500.11,188.06 499.99,188.69 499.73,189.32 499.89,189.96 500.39,190.59 500.59,191.22 500.13,191.86 499.38,192.49 499.02,193.12 499.18,193.75 499.33,194.38 499.00,195.02 498.42,195.65 498.24,196.28 498.72,196.92 499.40,197.55 499.63,198.18 499.44,198.81 499.39,199.44 499.87,200.08 500.51,200.71 500.67,201.34 500.18,201.98 499.62,202.61 499.52,203.24 499.75,203.87 499.70,204.50 499.09,205.14 498.42,205.77 498.30,206.40 498.76,207.04 499.19,207.67 499.14,208.30" fill="none" stroke="#62b6d8" stroke-width="2.6"/>
<polyline points="505.37,183.00 505.43,183.63 505.11,184.26 505.02,184.90 505.59,185.53 506.52,186.16 507.13,186.80 507.23,187.43 507.34,188.06 507.97,188.69 508.98,189.32 509.71,189.96 509.79,190.59 509.63,191.22 509.84,191.86 510.44,192.49 510.84,193.12 510.56,193.75 509.88,194.38 509.44,195.02 509.48,195.65 509.49,196.28 508.93,196.92 507.91,197.55 507.10,198.18 506.87,198.81 506.86,199.44 506.46,200.08 505.61,200.71 504.92,201.34 504.88,201.98 505.27,202.61 505.45,203.24 505.16,203.87 504.90,204.50 505.24,205.14 506.11,205.77 506.85,206.40 507.07,207.04 507.09,207.67 507.55,208.30" fill="none" stroke="#62b6d8" stroke-width="2.6"/>
<polyline points="509.97,183.00 510.06,183.63 510.41,184.26 510.38,184.90 509.69,185.53 508.80,186.16 508.33,186.80 508.30,187.43 508.10,188.06 507.33,188.69 506.31,189.32 505.72,189.96 505.73,190.59 505.83,191.22 505.48,191.86 504.83,192.49 504.55,193.12 504.95,193.75 505.61,194.38 505.90,195.02 505.79,195.65 505.87,196.28 506.57,196.92 507.60,197.55 508.28,198.18 508.41,198.81 508.47,199.44 509.02,200.08 509.91,200.71 510.49,201.34 510.40,201.98 510.03,202.61 510.00,203.24 510.37,203.87 510.54,204.50 510.06,205.14 509.18,205.77 508.56,206.40 508.45,207.04 508.38,207.67 507.78,208.30" fill="none" stroke="#62b6d8" stroke-width="2.6"/>
<polyline points="515.53,183.00 515.76,183.63 515.55,184.26 515.00,184.90 514.75,185.53 515.17,186.16 515.89,186.80 516.24,187.43 516.08,188.06 515.95,188.69 516.32,189.32 516.96,189.96 517.19,190.59 516.75,191.22 516.12,191.86 515.90,192.49 516.11,193.12 516.14,193.75 515.64,194.38 514.95,195.02 514.75,195.65 515.18,196.28 515.70,196.92 515.76,197.55 515.51,198.18 515.56,198.81 516.18,199.44 516.89,200.08 517.05,200.71 516.64,201.34 516.27,201.98 516.36,202.61 516.65,203.24 516.52,203.87 515.82,204.50 515.12,205.14 515.01,205.77 515.38,206.40 515.60,207.04 515.35,207.67 515.02,208.30" fill="none" stroke="#62b6d8" stroke-width="2.6"/>
<polyline points="520.79,183.00 520.10,183.63 519.57,184.26 519.70,184.90 520.25,185.53 520.58,186.16 520.42,186.80 520.24,187.43 520.58,188.06 521.34,188.69 521.84,189.32 521.69,189.96 521.22,190.59 521.06,191.22 521.34,191.86 521.49,192.49 521.05,193.12 520.26,193.75 519.80,194.38 519.98,195.02 520.34,195.65 520.32,196.28 519.94,196.92 519.82,197.55 520.33,198.18 521.12,198.81 521.50,199.44 521.31,200.08 521.06,200.71 521.26,201.34 521.73,201.98 521.82,202.61 521.27,203.24 520.52,203.87 520.23,204.50 520.44,205.14 520.57,205.77 520.20,206.40 519.66,207.04 519.59,207.67 520.17,208.30" fill="none" stroke="#62b6d8" stroke-width="2.6"/>
<polyline points="525.85,183.00 526.17,183.63 526.83,184.26 527.18,184.90 527.08,185.53 527.10,186.16 527.72,186.80 528.74,187.43 529.50,188.06 529.67,188.69 529.71,189.32 530.19,189.96 531.08,190.59 531.74,191.22 531.73,191.86 531.36,192.49 531.28,193.12 531.63,193.75 531.87,194.38 531.48,195.02 530.61,195.65 529.94,196.28 529.79,196.92 529.75,197.55 529.22,198.18 528.22,198.81 527.37,199.44 527.14,200.08 527.25,200.71 527.09,201.34 526.46,201.98 525.91,202.61 525.99,203.24 526.59,203.87 527.05,204.50 527.02,205.14 526.91,205.77 527.31,206.40 528.27,207.04 529.16,207.67 529.50,208.30" fill="none" stroke="#62b6d8" stroke-width="2.6"/>
<polyline points="531.88,183.00 531.33,183.63 531.08,184.26 531.26,184.90 531.32,185.53 530.75,186.16 529.77,186.80 529.04,187.43 528.86,188.06 528.80,188.69 528.27,189.32 527.32,189.96 526.59,190.59 526.51,191.22 526.78,191.86 526.75,192.49 526.30,193.12 525.95,193.75 526.25,194.38 527.03,195.02 527.63,195.65 527.73,196.28 527.73,196.92 528.24,197.55 529.25,198.18 530.13,198.81 530.41,199.44 530.35,200.08 530.60,200.71 531.32,201.34 531.97,201.98 532.00,202.61 531.51,203.24 531.15,203.87 531.27,204.50 531.47,205.14 531.13,205.77 530.23,206.40 529.37,207.04 529.04,207.67 529.01,208.30" fill="none" stroke="#62b6d8" stroke-width="2.6"/>
<polyline points="537.47,183.00 538.14,183.63 538.50,184.26 538.17,184.90 537.56,185.53 537.30,186.16 537.50,186.80 537.59,187.43 537.12,188.06 536.39,188.69 536.06,189.32 536.40,189.96 536.90,190.59 536.99,191.22 536.72,191.86 536.70,192.49 537.27,193.12 538.03,193.75 538.31,194.38 537.99,195.02 537.61,195.65 537.69,196.28 538.03,196.92 537.98,197.55 537.34,198.18 536.59,198.81 536.37,199.44 536.68,200.08 536.91,200.71 536.66,201.34 536.27,201.98 536.37,202.61 537.06,203.24 537.75,203.87 537.89,204.50 537.62,205.14 537.54,205.77 537.95,206.40 538.38,207.04 538.23,207.67 537.53,208.30" fill="none" stroke="#62b6d8" stroke-width="2.6"/>
<polyline points="543.03,183.00 543.02,183.63 542.59,184.26 542.39,184.90 542.64,185.53 542.89,186.16 542.58,186.80 541.80,187.43 541.22,188.06 541.27,188.69 541.62,189.32 541.66,189.96 541.27,190.59 541.02,191.22 541.40,191.86 542.18,192.49 542.68,193.12 542.59,193.75 542.32,194.38 542.47,195.02 542.97,195.65 543.21,196.28 542.78,196.92 542.03,197.55 541.64,198.18 541.79,198.81 541.95,199.44 541.64,200.08 541.05,200.71 540.82,201.34 541.27,201.98 541.95,202.61 542.21,203.24 542.03,203.87 541.96,204.50 542.42,205.14 543.08,205.77 543.27,206.40 542.82,207.04 542.25,207.67 542.13,208.30" fill="none" stroke="#62b6d8" stroke-width="2.6"/>
<polyline points="357.39,209.10 356.95,209.72 356.45,210.33 356.39,210.94 356.64,211.56 356.62,212.17 356.05,212.79 355.33,213.41 355.08,214.02 355.41,214.63 355.84,215.25 355.85,215.86 355.55,216.48 355.52,217.09 356.07,217.71 356.83,218.32 357.17,218.94 356.94,219.56 356.59,220.17 356.64,220.78 357.01,221.40 357.12,222.01 356.62,222.63 355.85,223.25 355.44,223.86 355.59,224.47 355.87,225.09 355.75,225.70 355.31,226.32 355.10,226.94 355.52,227.55 356.27,228.16 356.72,228.78 356.62,229.39 356.39,230.01 356.56,230.62 357.10,231.24 357.41,231.85 357.09,232.47 356.39,233.08 355.94,233.70" fill="none" stroke="#62b6d8" stroke-width="2.6"/>
<polyline points="361.82,209.10 361.38,209.72 361.34,210.33 361.63,210.94 361.69,211.56 361.18,212.17 360.41,212.79 360.03,213.41 360.24,214.02 360.60,214.63 360.58,215.25 360.22,215.86 360.07,216.48 360.53,217.09 361.31,217.71 361.76,218.32 361.63,218.94 361.34,219.56 361.42,220.17 361.86,220.78 362.10,221.40 361.72,222.01 360.97,222.63 360.49,223.25 360.56,223.86 360.80,224.47 360.66,225.09 360.14,225.70 359.79,226.32 360.07,226.94 360.76,227.55 361.25,228.16 361.21,228.78 361.00,229.39 361.18,230.01 361.77,230.62 362.23,231.24 362.06,231.85 361.45,232.47 360.99,233.08 361.03,233.70" fill="none" stroke="#62b6d8" stroke-width="2.6"/>
<polyline points="366.69,209.10 366.26,209.72 366.34,210.33 367.01,210.94 367.74,211.56 368.02,212.17 367.99,212.79 368.22,213.41 369.02,214.02 370.02,214.63 370.62,215.25 370.68,215.86 370.67,216.48 371.11,217.09 371.86,217.71 372.32,218.32 372.14,218.94 371.62,219.56 371.37,220.17 371.55,220.78 371.68,221.40 371.24,222.01 370.32,222.63 369.52,223.25 369.24,223.86 369.21,224.47 368.86,225.09 368.00,225.70 367.13,226.32 366.79,226.94 366.97,227.55 367.11,228.16 366.80,228.78 366.30,229.39 366.22,230.01 366.77,230.62 367.51,231.24 367.87,231.85 367.84,232.47 367.96,233.08 368.65,233.70" fill="none" stroke="#62b6d8" stroke-width="2.6"/>
<polyline points="371.66,209.10 371.47,209.72 371.70,210.33 371.90,210.94 371.54,211.56 370.67,212.17 369.88,212.79 369.61,213.41 369.59,214.02 369.24,214.63 368.37,215.25 367.45,215.86 367.05,216.48 367.16,217.09 367.25,217.71 366.88,218.32 366.31,218.94 366.14,219.56 366.60,220.17 367.29,220.78 367.61,221.40 367.54,222.01 367.61,222.63 368.26,223.25 369.27,223.86 370.01,224.47 370.20,225.09 370.20,225.70 370.59,226.32 371.39,226.94 372.07,227.55 372.13,228.16 371.73,228.78 371.49,229.39 371.69,230.01 371.98,230.62 371.77,231.24 370.98,231.85 370.15,232.47 369.79,233.08 369.77,233.70" fill="none" stroke="#62b6d8" stroke-width="2.6"/>
<polyline points="377.29,209.10 377.32,209.72 377.86,210.33 378.52,210.94 378.70,211.56 378.27,212.17 377.77,212.79 377.70,213.41 377.94,214.02 377.94,214.63 377.39,215.25 376.66,215.86 376.38,216.48 376.70,217.09 377.13,217.71 377.15,218.32 376.85,218.94 376.80,219.56 377.33,220.17 378.09,220.78 378.46,221.40 378.25,222.01 377.89,222.63 377.93,223.25 378.30,223.86 378.43,224.47 377.96,225.09 377.18,225.70 376.75,226.32 376.89,226.94 377.17,227.55 377.07,228.16 376.62,228.78 376.39,229.39 376.79,230.01 377.53,230.62 378.00,231.24 377.92,231.85 377.69,232.47 377.84,233.08 378.37,233.70" fill="none" stroke="#62b6d8" stroke-width="2.6"/>
<polyline points="382.31,209.10 382.99,209.72 383.12,210.33 382.82,210.94 382.64,211.56 382.91,212.17 383.31,212.79 383.23,213.41 382.58,214.02 381.88,214.63 381.69,215.25 381.93,215.86 382.05,216.48 381.71,217.09 381.22,217.71 381.19,218.32 381.77,218.94 382.45,219.56 382.67,220.17 382.47,220.78 382.39,221.40 382.79,222.01 383.37,222.63 383.52,223.25 383.04,223.86 382.40,224.47 382.17,225.09 382.36,225.70 382.43,226.32 381.99,226.94 381.33,227.55 381.06,228.16 381.43,228.78 382.01,229.39 382.21,230.01 382.00,230.62 381.92,231.24 382.37,231.85 383.09,232.47 383.47,233.08 383.21,233.70" fill="none" stroke="#62b6d8" stroke-width="2.6"/>
<polyline points="387.44,209.10 387.91,209.72 388.47,210.33 388.61,210.94 388.45,211.56 388.56,212.17 389.29,212.79 390.28,213.41 390.90,214.02 391.02,214.63 391.10,215.25 391.64,215.86 392.53,216.48 393.18,217.09 393.20,217.71 392.88,218.32 392.82,218.94 393.18,219.56 393.49,220.17 393.23,220.78 392.45,221.40 391.75,222.01 391.53,222.63 391.54,223.25 391.19,223.86 390.30,224.47 389.34,225.09 388.88,225.70 388.91,226.32 388.89,226.94 388.41,227.55 387.72,228.16 387.42,228.78 387.77,229.39 388.33,230.01 388.54,230.62 388.37,231.24 388.36,231.85 388.96,232.47 389.93,233.08 390.66,233.70" fill="none" stroke="#62b6d8" stroke-width="2.6"/>
<polyline points="392.90,209.10 393.32,209.72 393.50,210.33 393.03,210.94 392.21,211.56 391.65,212.17 391.56,212.79 391.52,213.41 390.98,214.02 390.00,214.63 389.15,215.25 388.88,215.86 388.97,216.48 388.81,217.09 388.19,217.71 387.56,218.32 387.47,218.94 387.95,219.56 388.44,220.17 388.49,220.78 388.29,221.40 388.46,222.01 389.23,222.63 390.19,223.25 390.74,223.86 390.82,224.47 390.95,225.09 391.57,225.70 392.49,226.32 393.10,226.94 393.08,227.55 392.80,228.16 392.83,228.78 393.26,229.39 393.56,230.01 393.25,230.62 392.48,231.24 391.85,231.85 391.71,232.47 391.72,233.08 391.30,233.70" fill="none" stroke="#62b6d8" stroke-width="2.6"/>
<polyline points="399.97,209.10 399.91,209.72 399.37,210.33 398.97,210.94 399.04,211.56 399.26,212.17 399.08,212.79 398.40,213.41 397.77,214.02 397.72,214.63 398.16,215.25 398.50,215.86 398.38,216.48 398.11,217.09 398.25,217.71 398.92,218.32 399.62,218.94 399.77,219.56 399.42,220.17 399.15,220.78 399.33,221.40 399.68,222.01 399.61,222.63 398.97,223.25 398.24,223.86 398.01,224.47 398.28,225.09 398.48,225.70 398.24,226.32 397.80,226.94 397.78,227.55 398.36,228.16 399.08,228.78 399.36,229.39 399.16,230.01 399.00,230.62 399.31,231.24 399.84,231.85 399.98,232.47 399.48,233.08 398.79,233.70" fill="none" stroke="#62b6d8" stroke-width="2.6"/>
<polyline points="404.48,209.10 404.05,209.72 403.95,210.33 404.25,210.94 404.43,211.56 404.04,212.17 403.27,212.79 402.75,213.41 402.83,214.02 403.18,214.63 403.21,215.25 402.84,215.86 402.58,216.48 402.89,217.09 403.65,217.71 404.20,218.32 404.19,218.94 403.91,219.56 403.94,220.17 404.38,220.78 404.75,221.40 404.53,222.01 403.83,222.63 403.26,223.25 403.23,223.86 403.46,224.47 403.39,225.09 402.88,225.70 402.40,226.32 402.51,226.94 403.14,227.55 403.68,228.16 403.73,228.78 403.51,229.39 403.61,230.01 404.18,230.62 404.75,231.24 404.76,231.85 404.23,232.47 403.73,233.08 403.70,233.70" fill="none" stroke="#62b6d8" stroke-width="2.6"/>
<polyline points="409.45,209.10 409.01,209.72 408.90,210.33 409.43,210.94 410.24,211.56 410.73,212.17 410.76,212.79 410.85,213.41 411.46,214.02 412.47,214.63 413.25,215.25 413.45,215.86 413.38,216.48 413.61,217.09 414.28,217.71 414.88,218.32 414.88,218.94 414.38,219.56 413.95,220.17 413.97,220.78 414.16,221.40 413.93,222.01 413.10,222.63 412.17,223.25 411.70,223.86 411.65,224.47 411.47,225.09 410.77,225.70 409.85,226.32 409.31,226.94 409.39,227.55 409.65,228.16 409.53,228.78 409.07,229.39 408.82,230.01 409.20,230.62 409.99,231.24 410.54,231.85 410.62,232.47 410.64,233.08 411.13,233.70" fill="none" stroke="#62b6d8" stroke-width="2.6"/>
<polyline points="414.22,209.10 414.09,209.72 414.36,210.33 414.53,210.94 414.10,211.56 413.21,212.17 412.48,212.79 412.26,213.41 412.23,214.02 411.82,214.63 410.91,215.25 410.02,215.86 409.68,216.48 409.82,217.09 409.85,217.71 409.43,218.32 408.86,218.94 408.75,219.56 409.26,220.17 409.92,220.78 410.18,221.40 410.08,222.01 410.20,222.63 410.91,223.25 411.92,223.86 412.60,224.47 412.74,225.09 412.77,225.70 413.22,226.32 414.05,226.94 414.68,227.55 414.68,228.16 414.29,228.78 414.10,229.39 414.35,230.01 414.61,230.62 414.34,231.24 413.53,231.85 412.74,232.47 412.43,233.08 412.42,233.70" fill="none" stroke="#62b6d8" stroke-width="2.6"/>
<polyline points="420.99,209.10 420.42,209.72 419.66,210.33 419.33,210.94 419.54,211.56 419.79,212.17 419.60,212.79 419.15,213.41 419.02,214.02 419.52,214.63 420.26,215.25 420.63,215.86 420.47,216.48 420.28,217.09 420.52,217.71 421.07,218.32 421.31,218.94 420.91,219.56 420.20,220.17 419.83,220.78 419.95,221.40 420.11,222.01 419.83,222.63 419.21,223.25 418.85,223.86 419.14,224.47 419.78,225.09 420.13,225.70 420.01,226.32 419.85,226.94 420.15,227.55 420.84,228.16 421.30,228.78 421.13,229.39 420.58,230.01 420.27,230.62 420.41,231.24 420.60,231.85 420.31,232.47 419.59,233.08 419.03,233.70" fill="none" stroke="#62b6d8" stroke-width="2.6"/>
<polyline points="424.89,209.10 424.89,209.72 425.10,210.33 424.96,210.94 424.35,211.56 423.76,212.17 423.76,212.79 424.27,213.41 424.71,214.02 424.69,214.63 424.45,215.25 424.58,215.86 425.22,216.48 425.89,217.09 426.01,217.71 425.59,218.32 425.21,218.94 425.28,219.56 425.57,220.17 425.49,220.78 424.86,221.40 424.13,222.01 423.92,222.63 424.23,223.25 424.54,223.86 424.41,224.47 424.05,225.09 424.06,225.70 424.65,226.32 425.40,226.94 425.70,227.55 425.46,228.16 425.22,228.78 425.42,229.39 425.86,230.01 425.95,230.62 425.42,231.24 424.68,231.85 424.34,232.47 424.51,233.08 424.70,233.70" fill="none" stroke="#62b6d8" stroke-width="2.6"/>
<polyline points="430.14,209.10 430.08,209.72 430.63,210.33 431.30,210.94 431.55,211.56 431.47,212.17 431.62,212.79 432.36,213.41 433.37,214.02 434.03,214.63 434.15,215.25 434.17,215.86 434.64,216.48 435.46,217.09 436.04,217.71 435.99,218.32 435.57,218.94 435.39,219.56 435.63,220.17 435.86,220.78 435.54,221.40 434.70,222.01 433.91,222.63 433.62,223.25 433.61,223.86 433.27,224.47 432.42,225.09 431.48,225.70 431.04,226.32 431.13,226.94 431.20,227.55 430.83,228.16 430.23,228.78 430.02,229.39 430.44,230.01 431.11,230.62 431.43,231.24 431.35,231.85 431.40,232.47 432.02,233.08 433.02,233.70" fill="none" stroke="#62b6d8" stroke-width="2.6"/>
<polyline points="436.21,209.10 435.68,209.72 435.21,210.33 435.18,210.94 435.35,211.56 435.12,212.17 434.31,212.79 433.36,213.41 432.85,214.02 432.79,214.63 432.64,215.25 431.98,215.86 431.07,216.48 430.52,217.09 430.60,217.71 430.89,218.32 430.84,218.94 430.41,219.56 430.17,220.17 430.55,220.78 431.35,221.40 431.95,222.01 432.07,222.63 432.08,223.25 432.55,223.86 433.51,224.47 434.40,225.09 434.75,225.70 434.69,226.32 434.80,226.94 435.39,227.55 436.07,228.16 436.25,228.78 435.83,229.39 435.32,230.01 435.23,230.62 435.44,231.24 435.35,231.85 434.65,232.47 433.68,233.08 433.07,233.70" fill="none" stroke="#62b6d8" stroke-width="2.6"/>
<polyline points="441.66,209.10 442.34,209.72 442.47,210.33 442.08,210.94 441.73,211.56 441.84,212.17 442.14,212.79 442.06,213.41 441.42,214.02 440.70,214.63 440.48,215.25 440.77,215.86 441.05,216.48 440.88,217.09 440.49,217.71 440.49,218.32 441.09,218.94 441.83,219.56 442.12,220.17 441.90,220.78 441.69,221.40 441.93,222.01 442.40,222.63 442.50,223.25 441.97,223.86 441.24,224.47 440.92,225.09 441.09,225.70 441.25,226.32 440.96,226.94 440.40,227.55 440.18,228.16 440.61,228.78 441.30,229.39 441.63,230.01 441.48,230.62 441.35,231.24 441.68,231.85 442.32,232.47 442.65,233.08 442.33,233.70" fill="none" stroke="#62b6d8" stroke-width="2.6"/>
<polyline points="446.06,209.10 446.54,209.72 447.21,210.33 447.42,210.94 447.02,211.56 446.47,212.17 446.33,212.79 446.55,213.41 446.60,214.02 446.10,214.63 445.37,215.25 445.04,215.86 445.34,216.48 445.81,217.09 445.91,217.71 445.64,218.32 445.55,218.94 446.02,219.56 446.79,220.17 447.21,220.78 447.02,221.40 446.63,222.01 446.59,222.63 446.93,223.25 447.09,223.86 446.66,224.47 445.88,225.09 445.40,225.70 445.51,226.32 445.82,226.94 445.79,227.55 445.38,228.16 445.13,228.78 445.48,229.39 446.23,230.01 446.75,230.62 446.71,231.24 446.45,231.85 446.54,232.47 447.02,233.08 447.39,233.70" fill="none" stroke="#62b6d8" stroke-width="2.6"/>
<polyline points="451.32,209.10 451.51,209.72 452.15,210.33 452.64,210.94 452.66,211.56 452.58,212.17 452.96,212.79 453.88,213.41 454.80,214.02 455.21,214.63 455.22,215.25 455.42,215.86 456.12,216.48 456.95,217.09 457.31,217.71 457.08,218.32 456.74,218.94 456.79,219.56 457.16,220.17 457.23,220.78 456.67,221.40 455.80,222.01 455.23,222.63 455.13,223.25 455.05,223.86 454.48,224.47 453.49,225.09 452.70,225.70 452.50,226.32 452.63,226.94 452.50,227.55 451.92,228.16 451.38,228.78 451.40,229.39 451.97,230.01 452.50,230.62 452.58,231.24 452.44,231.85 452.69,232.47 453.52,233.08 454.49,233.70" fill="none" stroke="#62b6d8" stroke-width="2.6"/>
<polyline points="457.30,209.10 457.55,209.72 457.15,210.33 456.41,210.94 455.96,211.56 455.95,212.17 455.93,212.79 455.38,213.41 454.39,214.02 453.55,214.63 453.27,215.25 453.30,215.86 453.05,216.48 452.33,217.09 451.62,217.71 451.47,218.32 451.86,218.94 452.22,219.56 452.14,220.17 451.87,220.78 451.98,221.40 452.72,222.01 453.62,222.63 454.11,223.25 454.17,223.86 454.33,224.47 455.01,225.09 455.99,225.70 456.63,226.32 456.66,226.94 456.48,227.55 456.64,228.16 457.19,228.78 457.57,229.39 457.33,230.01 456.64,230.62 456.11,231.24 456.06,231.85 456.11,232.47 455.70,233.08 454.76,233.70" fill="none" stroke="#62b6d8" stroke-width="2.6"/>
<polyline points="462.75,209.10 462.86,209.72 462.49,210.33 461.81,210.94 461.46,211.56 461.76,212.17 462.34,212.79 462.60,213.41 462.42,214.02 462.28,214.63 462.66,215.25 463.39,215.86 463.85,216.48 463.67,217.09 463.17,217.71 462.97,218.32 463.19,218.94 463.37,219.56 463.01,220.17 462.26,220.78 461.72,221.40 461.80,222.01 462.20,222.63 462.35,223.25 462.06,223.86 461.81,224.47 462.11,225.09 462.86,225.70 463.45,226.32 463.47,226.94 463.14,227.55 463.06,228.16 463.41,228.78 463.75,229.39 463.54,230.01 462.83,230.62 462.21,231.24 462.13,231.85 462.40,232.47 462.42,233.08 462.00,233.70" fill="none" stroke="#62b6d8" stroke-width="2.6"/>
<polyline points="467.96,209.10 467.37,209.72 466.65,210.33 466.41,210.94 466.74,211.56 467.14,212.17 467.11,212.79 466.80,213.41 466.78,214.02 467.34,214.63 468.10,215.25 468.43,215.86 468.19,216.48 467.87,217.09 467.96,217.71 468.35,218.32 468.45,218.94 467.94,219.56 467.18,220.17 466.78,220.78 466.95,221.40 467.20,222.01 467.05,222.63 466.58,223.25 466.37,223.86 466.80,224.47 467.54,225.09 467.97,225.70 467.86,226.32 467.65,226.94 467.86,227.55 468.41,228.16 468.72,228.78 468.40,229.39 467.71,230.01 467.29,230.62 467.38,231.24 467.56,231.85 467.32,232.47 466.69,233.08 466.26,233.70" fill="none" stroke="#62b6d8" stroke-width="2.6"/>
<polyline points="473.03,209.10 472.68,209.72 472.94,210.33 473.67,210.94 474.27,211.56 474.39,212.17 474.35,212.79 474.75,213.41 475.67,214.02 476.61,214.63 477.03,215.25 477.02,215.86 477.14,216.48 477.74,217.09 478.49,217.71 478.80,218.32 478.48,218.94 478.02,219.56 477.95,220.17 478.21,220.78 478.22,221.40 477.61,222.01 476.68,222.63 476.03,223.25 475.89,223.86 475.82,224.47 475.29,225.09 474.34,225.70 473.57,226.32 473.41,226.94 473.62,227.55 473.61,228.16 473.15,228.78 472.69,229.39 472.78,230.01 473.43,230.62 474.08,231.24 474.26,231.85 474.19,232.47 474.46,233.08 475.30,233.70" fill="none" stroke="#62b6d8" stroke-width="2.6"/>
<polyline points="478.65,209.10 478.10,209.72 477.82,210.33 477.97,210.94 478.08,211.56 477.63,212.17 476.70,212.79 475.89,213.41 475.60,214.02 475.57,214.63 475.23,215.25 474.39,215.86 473.53,216.48 473.21,217.09 473.41,217.71 473.57,218.32 473.30,218.94 472.82,219.56 472.76,220.17 473.33,220.78 474.10,221.40 474.48,222.01 474.47,222.63 474.59,223.25 475.28,223.86 476.30,224.47 477.02,225.09 477.17,225.70 477.13,226.32 477.46,226.94 478.19,227.55 478.77,228.16 478.72,228.78 478.23,229.39 477.89,230.01 478.01,230.62 478.20,231.24 477.90,231.85 477.05,232.47 476.17,233.08 475.79,233.70" fill="none" stroke="#62b6d8" stroke-width="2.6"/>
<polyline points="483.37,209.10 484.12,209.72 484.73,210.33 484.76,210.94 484.44,211.56 484.35,212.17 484.70,212.79 485.06,213.41 484.87,214.02 484.17,214.63 483.54,215.25 483.44,215.86 483.70,216.48 483.74,217.09 483.32,217.71 482.86,218.32 482.94,218.94 483.57,219.56 484.20,220.17 484.32,220.78 484.10,221.40 484.10,222.01 484.58,222.63 485.14,223.25 485.18,223.86 484.63,224.47 484.05,225.09 483.92,225.70 484.14,226.32 484.12,226.94 483.60,227.55 482.95,228.16 482.79,228.78 483.23,229.39 483.76,230.01 483.86,230.62 483.62,231.24 483.62,231.85 484.16,232.47 484.88,233.08 485.15,233.70" fill="none" stroke="#62b6d8" stroke-width="2.6"/>
<polyline points="488.37,209.10 488.36,209.72 488.89,210.33 489.62,210.94 489.92,211.56 489.62,212.17 489.18,212.79 489.14,213.41 489.43,214.02 489.50,214.63 488.99,215.25 488.22,215.86 487.83,216.48 488.04,217.09 488.40,217.71 488.38,218.32 488.02,218.94 487.87,219.56 488.33,220.17 489.10,220.78 489.55,221.40 489.43,222.01 489.14,222.63 489.22,223.25 489.66,223.86 489.91,224.47 489.53,225.09 488.78,225.70 488.30,226.32 488.37,226.94 488.60,227.55 488.47,228.16 487.94,228.78 487.59,229.39 487.86,230.01 488.56,230.62 489.04,231.24 489.00,231.85 488.80,232.47 488.97,233.08 489.56,233.70" fill="none" stroke="#62b6d8" stroke-width="2.6"/>
<polyline points="494.19,209.10 494.73,209.72 494.96,210.33 494.79,210.94 494.70,211.56 495.19,212.17 496.14,212.79 496.92,213.41 497.17,214.02 497.19,214.63 497.58,215.25 498.45,215.86 499.29,216.48 499.57,217.09 499.35,217.71 499.22,218.32 499.54,218.94 500.01,219.56 500.03,220.17 499.43,220.78 498.68,221.40 498.34,222.01 498.37,222.63 498.21,223.25 497.48,223.86 496.46,224.47 495.79,225.09 495.67,225.70 495.70,226.32 495.32,226.94 494.57,227.55 494.02,228.16 494.11,228.78 494.61,229.39 494.90,230.01 494.75,230.62 494.57,231.24 494.92,231.85 495.79,232.47 496.64,233.08 496.98,233.70" fill="none" stroke="#62b6d8" stroke-width="2.6"/>
<polyline points="500.00,209.10 500.14,209.72 499.65,210.33 498.94,210.94 498.60,211.56 498.65,212.17 498.57,212.79 497.91,213.41 496.89,214.02 496.15,214.63 495.97,215.25 495.98,215.86 495.61,216.48 494.83,217.09 494.17,217.71 494.14,218.32 494.56,218.94 494.83,219.56 494.65,220.17 494.39,220.78 494.62,221.40 495.42,222.01 496.27,222.63 496.64,223.25 496.67,223.86 496.92,224.47 497.70,225.09 498.67,225.70 499.20,226.32 499.16,226.94 499.03,227.55 499.31,228.16 499.89,228.78 500.19,229.39 499.84,230.01 499.15,230.62 498.74,231.24 498.77,231.85 498.77,232.47 498.24,233.08 497.26,233.70" fill="none" stroke="#62b6d8" stroke-width="2.6"/>
<polyline points="504.39,209.10 504.60,209.72 505.32,210.33 505.97,210.94 506.06,211.56 505.76,212.17 505.63,212.79 505.96,213.41 506.35,214.02 506.23,214.63 505.56,215.25 504.90,215.86 504.75,216.48 505.00,217.09 505.07,217.71 504.67,218.32 504.18,218.94 504.19,219.56 504.79,220.17 505.44,220.78 505.61,221.40 505.40,222.01 505.36,222.63 505.81,223.25 506.40,223.86 506.51,224.47 506.01,225.09 505.40,225.70 505.23,226.32 505.44,226.94 505.46,227.55 504.98,228.16 504.31,228.78 504.08,229.39 504.47,230.01 505.01,230.62 505.15,231.24 504.92,231.85 504.88,232.47 505.38,233.08 506.11,233.70" fill="none" stroke="#62b6d8" stroke-width="2.6"/>
<polyline points="509.11,209.10 509.54,209.72 510.31,210.33 510.78,210.94 510.68,211.56 510.41,212.17 510.50,212.79 510.96,213.41 511.24,214.02 510.90,214.63 510.17,215.25 509.68,215.86 509.72,216.48 509.95,217.09 509.81,217.71 509.27,218.32 508.88,218.94 509.11,219.56 509.78,220.17 510.27,220.78 510.24,221.40 510.03,222.01 510.20,222.63 510.81,223.25 511.31,223.86 511.20,224.47 510.61,225.09 510.16,225.70 510.20,226.32 510.41,226.94 510.23,227.55 509.58,228.16 508.99,228.78 508.98,229.39 509.47,230.01 509.87,230.62 509.80,231.24 509.55,231.85 509.70,232.47 510.37,233.08 511.04,233.70" fill="none" stroke="#62b6d8" stroke-width="2.6"/>
<polyline points="515.65,209.10 515.29,209.72 515.52,210.33 516.25,210.94 516.87,211.56 517.01,212.17 516.97,212.79 517.34,213.41 518.25,214.02 519.20,214.63 519.65,215.25 519.64,215.86 519.74,216.48 520.32,217.09 521.08,217.71 521.40,218.32 521.10,218.94 520.63,219.56 520.54,220.17 520.79,220.78 520.82,221.40 520.23,222.01 519.29,222.63 518.63,223.25 518.47,223.86 518.41,224.47 517.90,225.09 516.96,225.70 516.18,226.32 515.99,226.94 516.20,227.55 516.21,228.16 515.77,228.78 515.30,229.39 515.37,230.01 516.01,230.62 516.67,231.24 516.88,231.85 516.81,232.47 517.06,233.08 517.88,233.70" fill="none" stroke="#62b6d8" stroke-width="2.6"/>
<polyline points="521.37,209.10 521.41,209.72 520.85,210.33 520.19,210.94 519.96,211.56 520.05,212.17 519.88,212.79 519.12,213.41 518.11,214.02 517.47,214.63 517.37,215.25 517.33,215.86 516.85,216.48 516.03,217.09 515.45,217.71 515.52,218.32 515.94,218.94 516.11,219.56 515.85,220.17 515.63,220.78 515.97,221.40 516.82,222.01 517.59,222.63 517.87,223.25 517.88,223.86 518.23,224.47 519.10,225.09 520.03,225.70 520.46,226.32 520.36,226.94 520.29,227.55 520.68,228.16 521.28,228.78 521.48,229.39 521.04,230.01 520.38,230.62 520.08,231.24 520.17,231.85 520.11,232.47 519.47,233.08 518.47,233.70" fill="none" stroke="#62b6d8" stroke-width="2.6"/>
<polyline points="527.21,209.10 527.71,209.72 527.58,210.33 527.10,210.94 526.89,211.56 527.12,212.17 527.32,212.79 527.01,213.41 526.25,214.02 525.68,214.63 525.71,215.25 526.09,215.86 526.24,216.48 525.95,217.09 525.67,217.71 525.92,218.32 526.66,218.94 527.28,219.56 527.33,220.17 527.02,220.78 526.94,221.40 527.30,222.01 527.68,222.63 527.51,223.25 526.82,223.86 526.19,224.47 526.08,225.09 526.33,225.70 526.36,226.32 525.93,226.94 525.46,227.55 525.51,228.16 526.13,228.78 526.75,229.39 526.88,230.01 526.66,230.62 526.66,231.24 527.15,231.85 527.73,232.47 527.79,233.08 527.27,233.70" fill="none" stroke="#62b6d8" stroke-width="2.6"/>
<polyline points="532.04,209.10 532.51,209.72 532.34,210.33 531.88,210.94 531.70,211.56 531.95,212.17 532.14,212.79 531.78,213.41 531.02,214.02 530.48,214.63 530.54,215.25 530.92,215.86 531.03,216.48 530.72,217.09 530.45,217.71 530.74,218.32 531.49,218.94 532.09,219.56 532.10,220.17 531.80,220.78 531.75,221.40 532.13,222.01 532.49,222.63 532.30,223.25 531.59,223.86 530.98,224.47 530.91,225.09 531.16,225.70 531.16,226.32 530.70,226.94 530.24,227.55 530.32,228.16 530.96,228.78 531.56,229.39 531.65,230.01 531.43,230.62 531.47,231.24 531.98,231.85 532.55,232.47 532.58,233.08 532.03,233.70" fill="none" stroke="#62b6d8" stroke-width="2.6"/>
<polyline points="537.38,209.10 537.28,209.72 536.93,210.33 536.94,210.94 537.58,211.56 538.46,212.17 538.97,212.79 539.03,213.41 539.16,214.02 539.80,214.63 540.80,215.25 541.52,215.86 541.64,216.48 541.50,217.09 541.68,217.71 542.28,218.32 542.76,218.94 542.64,219.56 542.03,220.17 541.53,220.78 541.49,221.40 541.60,222.01 541.27,222.63 540.39,223.25 539.45,223.86 539.00,224.47 538.97,225.09 538.79,225.70 538.12,226.32 537.26,226.94 536.83,227.55 537.02,228.16 537.36,228.78 537.31,229.39 536.94,230.01 536.81,230.62 537.31,231.24 538.17,231.85 538.76,232.47 538.87,233.08 538.93,233.70" fill="none" stroke="#62b6d8" stroke-width="2.6"/>
<polyline points="542.02,209.10 542.45,209.72 542.60,210.33 542.11,210.94 541.29,211.56 540.76,212.17 540.69,212.79 540.63,213.41 540.07,214.02 539.07,214.63 538.25,215.25 538.00,215.86 538.09,216.48 537.90,217.09 537.27,217.71 536.65,218.32 536.59,218.94 537.08,219.56 537.54,220.17 537.57,220.78 537.37,221.40 537.56,222.01 538.35,222.63 539.30,223.25 539.83,223.86 539.89,224.47 540.04,225.09 540.69,225.70 541.61,226.32 542.20,226.94 542.15,227.55 541.88,228.16 541.94,228.78 542.39,229.39 542.67,230.01 542.33,230.62 541.56,231.24 540.95,231.85 540.83,232.47 540.83,233.08 540.39,233.70" fill="none" stroke="#62b6d8" stroke-width="2.6"/>
<circle cx="136.30" cy="176.5" r="4.85" fill="#76c8e8" stroke="#3a48b8" stroke-width="1.1"/>
<circle cx="146.91" cy="176.5" r="4.85" fill="#76c8e8" stroke="#3a48b8" stroke-width="1.1"/>
<circle cx="157.52" cy="176.5" r="4.85" fill="#76c8e8" stroke="#3a48b8" stroke-width="1.1"/>
<circle cx="168.13" cy="176.5" r="4.85" fill="#76c8e8" stroke="#3a48b8" stroke-width="1.1"/>
<circle cx="178.74" cy="176.5" r="4.85" fill="#76c8e8" stroke="#3a48b8" stroke-width="1.1"/>
<circle cx="189.35" cy="176.5" r="4.85" fill="#76c8e8" stroke="#3a48b8" stroke-width="1.1"/>
<circle cx="199.96" cy="176.5" r="4.85" fill="#76c8e8" stroke="#3a48b8" stroke-width="1.1"/>
<circle cx="210.57" cy="176.5" r="4.85" fill="#76c8e8" stroke="#3a48b8" stroke-width="1.1"/>
<circle cx="221.18" cy="176.5" r="4.85" fill="#76c8e8" stroke="#3a48b8" stroke-width="1.1"/>
<circle cx="231.79" cy="176.5" r="4.85" fill="#76c8e8" stroke="#3a48b8" stroke-width="1.1"/>
<circle cx="242.40" cy="176.5" r="4.85" fill="#76c8e8" stroke="#3a48b8" stroke-width="1.1"/>
<circle cx="253.01" cy="176.5" r="4.85" fill="#76c8e8" stroke="#3a48b8" stroke-width="1.1"/>
<circle cx="263.62" cy="176.5" r="4.85" fill="#76c8e8" stroke="#3a48b8" stroke-width="1.1"/>
<circle cx="274.23" cy="176.5" r="4.85" fill="#76c8e8" stroke="#3a48b8" stroke-width="1.1"/>
<circle cx="284.84" cy="176.5" r="4.85" fill="#76c8e8" stroke="#3a48b8" stroke-width="1.1"/>
<circle cx="295.45" cy="176.5" r="4.85" fill="#76c8e8" stroke="#3a48b8" stroke-width="1.1"/>
<circle cx="306.06" cy="176.5" r="4.85" fill="#76c8e8" stroke="#3a48b8" stroke-width="1.1"/>
<circle cx="316.67" cy="176.5" r="4.85" fill="#76c8e8" stroke="#3a48b8" stroke-width="1.1"/>
<circle cx="136.30" cy="236.1" r="4.85" fill="#76c8e8" stroke="#3a48b8" stroke-width="1.1"/>
<circle cx="146.91" cy="236.1" r="4.85" fill="#76c8e8" stroke="#3a48b8" stroke-width="1.1"/>
<circle cx="157.52" cy="236.1" r="4.85" fill="#76c8e8" stroke="#3a48b8" stroke-width="1.1"/>
<circle cx="168.13" cy="236.1" r="4.85" fill="#76c8e8" stroke="#3a48b8" stroke-width="1.1"/>
<circle cx="178.74" cy="236.1" r="4.85" fill="#76c8e8" stroke="#3a48b8" stroke-width="1.1"/>
<circle cx="189.35" cy="236.1" r="4.85" fill="#76c8e8" stroke="#3a48b8" stroke-width="1.1"/>
<circle cx="199.96" cy="236.1" r="4.85" fill="#76c8e8" stroke="#3a48b8" stroke-width="1.1"/>
<circle cx="210.57" cy="236.1" r="4.85" fill="#76c8e8" stroke="#3a48b8" stroke-width="1.1"/>
<circle cx="221.18" cy="236.1" r="4.85" fill="#76c8e8" stroke="#3a48b8" stroke-width="1.1"/>
<circle cx="231.79" cy="236.1" r="4.85" fill="#76c8e8" stroke="#3a48b8" stroke-width="1.1"/>
<circle cx="242.40" cy="236.1" r="4.85" fill="#76c8e8" stroke="#3a48b8" stroke-width="1.1"/>
<circle cx="253.01" cy="236.1" r="4.85" fill="#76c8e8" stroke="#3a48b8" stroke-width="1.1"/>
<circle cx="263.62" cy="236.1" r="4.85" fill="#76c8e8" stroke="#3a48b8" stroke-width="1.1"/>
<circle cx="274.23" cy="236.1" r="4.85" fill="#76c8e8" stroke="#3a48b8" stroke-width="1.1"/>
<circle cx="284.84" cy="236.1" r="4.85" fill="#76c8e8" stroke="#3a48b8" stroke-width="1.1"/>
<circle cx="295.45" cy="236.1" r="4.85" fill="#76c8e8" stroke="#3a48b8" stroke-width="1.1"/>
<circle cx="306.06" cy="236.1" r="4.85" fill="#76c8e8" stroke="#3a48b8" stroke-width="1.1"/>
<circle cx="316.67" cy="236.1" r="4.85" fill="#76c8e8" stroke="#3a48b8" stroke-width="1.1"/>
<circle cx="358.60" cy="178.6" r="4.85" fill="#76c8e8" stroke="#3a48b8" stroke-width="1.1"/>
<circle cx="369.25" cy="178.6" r="4.85" fill="#76c8e8" stroke="#3a48b8" stroke-width="1.1"/>
<circle cx="379.90" cy="178.6" r="4.85" fill="#76c8e8" stroke="#3a48b8" stroke-width="1.1"/>
<circle cx="390.55" cy="178.6" r="4.85" fill="#76c8e8" stroke="#3a48b8" stroke-width="1.1"/>
<circle cx="401.20" cy="178.6" r="4.85" fill="#76c8e8" stroke="#3a48b8" stroke-width="1.1"/>
<circle cx="411.85" cy="178.6" r="4.85" fill="#76c8e8" stroke="#3a48b8" stroke-width="1.1"/>
<circle cx="422.50" cy="178.6" r="4.85" fill="#76c8e8" stroke="#3a48b8" stroke-width="1.1"/>
<circle cx="433.15" cy="178.6" r="4.85" fill="#76c8e8" stroke="#3a48b8" stroke-width="1.1"/>
<circle cx="443.80" cy="178.6" r="4.85" fill="#76c8e8" stroke="#3a48b8" stroke-width="1.1"/>
<circle cx="454.45" cy="178.6" r="4.85" fill="#76c8e8" stroke="#3a48b8" stroke-width="1.1"/>
<circle cx="465.10" cy="178.6" r="4.85" fill="#76c8e8" stroke="#3a48b8" stroke-width="1.1"/>
<circle cx="475.75" cy="178.6" r="4.85" fill="#76c8e8" stroke="#3a48b8" stroke-width="1.1"/>
<circle cx="486.40" cy="178.6" r="4.85" fill="#76c8e8" stroke="#3a48b8" stroke-width="1.1"/>
<circle cx="497.05" cy="178.6" r="4.85" fill="#76c8e8" stroke="#3a48b8" stroke-width="1.1"/>
<circle cx="507.70" cy="178.6" r="4.85" fill="#76c8e8" stroke="#3a48b8" stroke-width="1.1"/>
<circle cx="518.35" cy="178.6" r="4.85" fill="#76c8e8" stroke="#3a48b8" stroke-width="1.1"/>
<circle cx="529.00" cy="178.6" r="4.85" fill="#76c8e8" stroke="#3a48b8" stroke-width="1.1"/>
<circle cx="539.65" cy="178.6" r="4.85" fill="#76c8e8" stroke="#3a48b8" stroke-width="1.1"/>
<circle cx="358.60" cy="238.2" r="4.85" fill="#76c8e8" stroke="#3a48b8" stroke-width="1.1"/>
<circle cx="369.25" cy="238.2" r="4.85" fill="#76c8e8" stroke="#3a48b8" stroke-width="1.1"/>
<circle cx="379.90" cy="238.2" r="4.85" fill="#76c8e8" stroke="#3a48b8" stroke-width="1.1"/>
<circle cx="390.55" cy="238.2" r="4.85" fill="#76c8e8" stroke="#3a48b8" stroke-width="1.1"/>
<circle cx="401.20" cy="238.2" r="4.85" fill="#76c8e8" stroke="#3a48b8" stroke-width="1.1"/>
<circle cx="411.85" cy="238.2" r="4.85" fill="#76c8e8" stroke="#3a48b8" stroke-width="1.1"/>
<circle cx="422.50" cy="238.2" r="4.85" fill="#76c8e8" stroke="#3a48b8" stroke-width="1.1"/>
<circle cx="433.15" cy="238.2" r="4.85" fill="#76c8e8" stroke="#3a48b8" stroke-width="1.1"/>
<circle cx="443.80" cy="238.2" r="4.85" fill="#76c8e8" stroke="#3a48b8" stroke-width="1.1"/>
<circle cx="454.45" cy="238.2" r="4.85" fill="#76c8e8" stroke="#3a48b8" stroke-width="1.1"/>
<circle cx="465.10" cy="238.2" r="4.85" fill="#76c8e8" stroke="#3a48b8" stroke-width="1.1"/>
<circle cx="475.75" cy="238.2" r="4.85" fill="#76c8e8" stroke="#3a48b8" stroke-width="1.1"/>
<circle cx="486.40" cy="238.2" r="4.85" fill="#76c8e8" stroke="#3a48b8" stroke-width="1.1"/>
<circle cx="497.05" cy="238.2" r="4.85" fill="#76c8e8" stroke="#3a48b8" stroke-width="1.1"/>
<circle cx="507.70" cy="238.2" r="4.85" fill="#76c8e8" stroke="#3a48b8" stroke-width="1.1"/>
<circle cx="518.35" cy="238.2" r="4.85" fill="#76c8e8" stroke="#3a48b8" stroke-width="1.1"/>
<circle cx="529.00" cy="238.2" r="4.85" fill="#76c8e8" stroke="#3a48b8" stroke-width="1.1"/>
<circle cx="539.65" cy="238.2" r="4.85" fill="#76c8e8" stroke="#3a48b8" stroke-width="1.1"/>
<path d="M336.5,281.8 L332.4,281.8 L332.4,262 C326,249 321.5,232 321.5,213 C321.5,190 325,168 330.5,152.3 L310.5,133.5 C305.5,127.5 303.5,123 303.6,119.5 C303.8,113 308,106.5 316.6,98.9 C321,94.5 324.5,91 326.6,87.9 C327.6,86.8 329.8,86.9 330.3,88.6 C329.6,93 328.6,96 327,98.3 C323,104.5 316,114 311,122.3 C313,126.5 315,129 318.5,132.5 L335.8,148.5 Z" fill="#7b2e9c" stroke="#63228a" stroke-width="0.6"/>
<path d="M336.5,281.8 L332.4,281.8 L332.4,262 C326,249 321.5,232 321.5,213 C321.5,190 325,168 330.5,152.3 L310.5,133.5 C305.5,127.5 303.5,123 303.6,119.5 C303.8,113 308,106.5 316.6,98.9 C321,94.5 324.5,91 326.6,87.9 C327.6,86.8 329.8,86.9 330.3,88.6 C329.6,93 328.6,96 327,98.3 C323,104.5 316,114 311,122.3 C313,126.5 315,129 318.5,132.5 L335.8,148.5 Z" fill="#7b2e9c" stroke="#63228a" stroke-width="0.6" transform="translate(675.8,0) scale(-1,1)"/>
<path d="M339.07,141.77 Q337.39,143.90 335.64,141.83 L329.68,134.80 Q328.63,133.56 327.10,133.00 L318.46,129.80 Q315.91,128.86 317.34,126.55 L322.18,118.71 Q323.04,117.33 323.10,115.71 L323.47,106.50 Q323.58,103.79 326.21,104.43 L335.17,106.62 Q336.75,107.00 338.31,106.56 L347.18,104.07 Q349.79,103.33 349.99,106.04 L350.68,115.23 Q350.80,116.85 351.71,118.20 L356.82,125.87 Q358.33,128.12 355.82,129.15 L347.29,132.64 Q345.79,133.26 344.78,134.54 Z" fill="#d21f34"/>
<path d="M339.07,141.77 Q337.39,143.90 335.64,141.83 L329.68,134.80 Q328.63,133.56 327.10,133.00 L318.46,129.80 Q315.91,128.86 317.34,126.55 L322.18,118.71 Q323.04,117.33 323.10,115.71 L323.47,106.50 Q323.58,103.79 326.21,104.43 L335.17,106.62 Q336.75,107.00 338.31,106.56 L347.18,104.07 Q349.79,103.33 349.99,106.04 L350.68,115.23 Q350.80,116.85 351.71,118.20 L356.82,125.87 Q358.33,128.12 355.82,129.15 L347.29,132.64 Q345.79,133.26 344.78,134.54 Z" fill="#e8207a" filter="url(#sb)" transform="translate(337,124.5) scale(0.8) translate(-337,-124.5)"/>
<text x="361.2" y="159.2" font-size="16.5" letter-spacing="0.45" fill="#111">RTK</text>
<text x="591.5" y="202.2" font-size="15.5" fill="#111" text-anchor="middle">outer cell</text>
<text x="591.5" y="220.4" font-size="15.5" fill="#111" text-anchor="middle">membrane</text>
<line x1="328.8" y1="284" x2="300.41" y2="328.56" stroke="#111" stroke-width="3.3"/>
<path d="M294.20,338.30 L299.27,321.97 L302.53,325.22 L306.86,326.80 Z" fill="#111"/>
<line x1="350" y1="284" x2="378.24" y2="328.73" stroke="#111" stroke-width="3.3"/>
<path d="M384.40,338.50 L371.79,326.95 L376.12,325.38 L379.40,322.15 Z" fill="#111"/>
<line x1="372" y1="354.2" x2="316.70" y2="354.20" stroke="#111" stroke-width="3.3"/>
<path d="M304.80,354.20 L321.80,349.80 L320.78,354.20 L321.80,358.60 Z" fill="#111"/>
<line x1="265.7" y1="376" x2="265.70" y2="440.40" stroke="#111" stroke-width="3.3"/>
<path d="M265.70,454.40 L261.10,434.40 L265.70,435.60 L270.30,434.40 Z" fill="#111"/>
<line x1="413" y1="376.3" x2="413.00" y2="410.45" stroke="#111" stroke-width="3.3"/>
<path d="M413.00,418.50 L408.25,407.00 L413.00,407.69 L417.75,407.00 Z" fill="#111"/>
<line x1="414" y1="459.7" x2="414.00" y2="494.05" stroke="#111" stroke-width="3.3"/>
<path d="M414.00,502.10 L409.25,490.60 L414.00,491.29 L418.75,490.60 Z" fill="#111"/>
<line x1="413.5" y1="544.2" x2="413.50" y2="578.95" stroke="#111" stroke-width="3.3"/>
<path d="M413.50,587.00 L408.75,575.50 L413.50,576.19 L418.25,575.50 Z" fill="#111"/>
<line x1="255.2" y1="498.3" x2="209.45" y2="561.21" stroke="#111" stroke-width="3.3"/>
<path d="M200.80,573.10 L209.51,553.47 L212.41,557.14 L216.79,558.76 Z" fill="#111"/>
<polyline points="182.5,570.8 182.5,478 209,478" fill="none" stroke="#111" stroke-width="3.2"/>
<path d="M216.7,478 L207.8,473.5 L208.5,478 L207.8,482.5 Z" fill="#111"/>
<line x1="208.1" y1="409" x2="255" y2="409" stroke="#111" stroke-width="3.1"/>
<line x1="255" y1="397.3" x2="255" y2="420.7" stroke="#111" stroke-width="3.3"/>
<rect x="230.6" y="339.1" width="70.29999999999998" height="30.5" rx="15.25" fill="url(#gd)" stroke="#2e7a44" stroke-width="1.2"/>
<rect x="231.1" y="339.6" width="69.29999999999998" height="29.5" rx="14.75" fill="url(#hl)"/>
<rect x="232.1" y="340.6" width="67.29999999999998" height="27.5" rx="13.75" fill="none" stroke="#ffffff" stroke-opacity="0.3" stroke-width="0.8"/>
<text x="265.75" y="359.9" font-size="14.8" fill="#f2f2ee" text-anchor="middle">PI3K</text>
<rect x="227.8" y="462.6" width="69.59999999999997" height="30.399999999999977" rx="15.199999999999989" fill="url(#gd)" stroke="#2e7a44" stroke-width="1.2"/>
<rect x="228.3" y="463.1" width="68.59999999999997" height="29.399999999999977" rx="14.699999999999989" fill="url(#hl)"/>
<rect x="229.3" y="464.1" width="66.59999999999997" height="27.399999999999977" rx="13.699999999999989" fill="none" stroke="#ffffff" stroke-opacity="0.3" stroke-width="0.8"/>
<text x="262.6" y="482.8" font-size="14.8" fill="#f2f2ee" text-anchor="middle">AKT</text>
<rect x="156.8" y="577.6" width="70.39999999999998" height="30.600000000000023" rx="15.300000000000011" fill="url(#gd)" stroke="#2e7a44" stroke-width="1.2"/>
<rect x="157.3" y="578.1" width="69.39999999999998" height="29.600000000000023" rx="14.800000000000011" fill="url(#hl)"/>
<rect x="158.3" y="579.1" width="67.39999999999998" height="27.600000000000023" rx="13.800000000000011" fill="none" stroke="#ffffff" stroke-opacity="0.3" stroke-width="0.8"/>
<text x="193.2" y="597.2" font-size="14.8" fill="#f2f2ee" text-anchor="middle">mTOR</text>
<rect x="131.5" y="393.8" width="70.30000000000001" height="30.099999999999966" rx="15.049999999999983" fill="url(#gb)" stroke="#3f8a55" stroke-width="1.2"/>
<rect x="132" y="394.3" width="69.30000000000001" height="29.099999999999966" rx="14.549999999999983" fill="url(#hl)"/>
<rect x="133" y="395.3" width="67.30000000000001" height="27.099999999999966" rx="13.549999999999983" fill="none" stroke="#ffffff" stroke-opacity="0.3" stroke-width="0.8"/>
<text x="166.65" y="413.2" font-size="14.8" fill="#f2f2ee" text-anchor="middle">PTEN</text>
<rect x="379.0" y="339.5" width="69.5" height="29.80000000000001" rx="14.900000000000006" fill="url(#gl)" stroke="#3a8a50" stroke-width="1.2"/>
<rect x="379.5" y="340" width="68.5" height="28.80000000000001" rx="14.400000000000006" fill="url(#hl)"/>
<rect x="380.5" y="341" width="66.5" height="26.80000000000001" rx="13.400000000000006" fill="none" stroke="#ffffff" stroke-opacity="0.3" stroke-width="0.8"/>
<text x="413.75" y="358.8" font-size="14.8" fill="#f2f2ee" text-anchor="middle">RAS</text>
<rect x="342.6" y="424.5" width="69.5" height="30.19999999999999" rx="15.099999999999994" fill="url(#gl)" stroke="#3a8a50" stroke-width="1.2"/>
<rect x="343.1" y="425" width="68.5" height="29.19999999999999" rx="14.599999999999994" fill="url(#hl)"/>
<rect x="344.1" y="426" width="66.5" height="27.19999999999999" rx="13.599999999999994" fill="none" stroke="#ffffff" stroke-opacity="0.3" stroke-width="0.8"/>
<text x="377.95000000000005" y="445" font-size="14.8" fill="#f2f2ee" text-anchor="middle">C-RAF</text>
<rect x="415.1" y="424.5" width="69.5" height="30.19999999999999" rx="15.099999999999994" fill="url(#gl)" stroke="#3a8a50" stroke-width="1.2"/>
<rect x="415.6" y="425" width="68.5" height="29.19999999999999" rx="14.599999999999994" fill="url(#hl)"/>
<rect x="416.6" y="426" width="66.5" height="27.19999999999999" rx="13.599999999999994" fill="none" stroke="#ffffff" stroke-opacity="0.3" stroke-width="0.8"/>
<text x="451.05" y="445" font-size="14.8" fill="#f2f2ee" text-anchor="middle">B-RAF</text>
<rect x="379.0" y="507.5" width="70.10000000000002" height="30.399999999999977" rx="15.199999999999989" fill="url(#gl)" stroke="#3a8a50" stroke-width="1.2"/>
<rect x="379.5" y="508" width="69.10000000000002" height="29.399999999999977" rx="14.699999999999989" fill="url(#hl)"/>
<rect x="380.5" y="509" width="67.10000000000002" height="27.399999999999977" rx="13.699999999999989" fill="none" stroke="#ffffff" stroke-opacity="0.3" stroke-width="0.8"/>
<text x="414.05" y="527.6" font-size="14.8" fill="#f2f2ee" text-anchor="middle">MEK</text>
<rect x="379.5" y="593.0" width="69.89999999999998" height="30.399999999999977" rx="15.199999999999989" fill="url(#gl)" stroke="#3a8a50" stroke-width="1.2"/>
<rect x="380" y="593.5" width="68.89999999999998" height="29.399999999999977" rx="14.699999999999989" fill="url(#hl)"/>
<rect x="381" y="594.5" width="66.89999999999998" height="27.399999999999977" rx="13.699999999999989" fill="none" stroke="#ffffff" stroke-opacity="0.3" stroke-width="0.8"/>
<text x="415.15" y="611.9" font-size="14.8" fill="#f2f2ee" text-anchor="middle">ERK</text>
<path d="M222.7,649 L222.7,683.5 L186.4,684 L316.4,739.7 L435.9,682.6 L398.9,681.9 L398.9,649 Z" fill="url(#pg)"/>
<path d="M222.7,649 L222.7,683.5 L186.4,684 L316.4,739.7 L435.9,682.6 L398.9,681.9 L398.9,649" fill="none" stroke="#7a14b0" stroke-width="1.4" stroke-linejoin="round"/>
<text x="312.4" y="772" font-size="24.9" fill="#6e12a4" text-anchor="middle">PROLIFERATION</text>
</svg></body></html>
